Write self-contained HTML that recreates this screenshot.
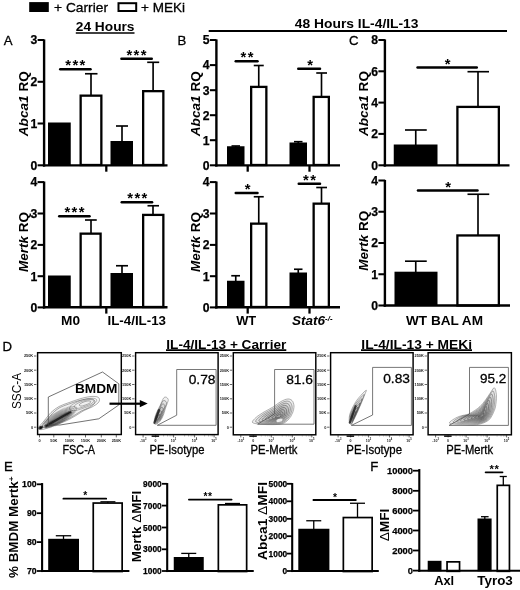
<!DOCTYPE html>
<html lang="en"><head><meta charset="utf-8"><title>Figure</title>
<style>
html,body{margin:0;padding:0;background:#fff;}
body{width:520px;height:590px;overflow:hidden;}
svg{display:block;font-family:"Liberation Sans",sans-serif;fill:#000;}
</style></head><body>
<svg width="520" height="590" viewBox="0 0 520 590">
<rect width="520" height="590" fill="#fff"/>
<defs><filter id="soft" x="-20%" y="-20%" width="140%" height="140%"><feGaussianBlur stdDeviation="0.55"/></filter>
<filter id="soft2" x="-20%" y="-20%" width="140%" height="140%"><feGaussianBlur stdDeviation="0.9"/></filter></defs>

<g id="legend">
<rect x="29.2" y="2.1" width="19.6" height="9.9" fill="#000"/>
<text x="54.00" y="11.60" font-size="13.6" font-weight="normal" font-style="normal" text-anchor="start" textLength="54.00" lengthAdjust="spacingAndGlyphs"  stroke="#000" stroke-width="0.3">+ Carrier</text>
<rect x="118.5" y="3.2" width="17.7" height="7.8" fill="#fff" stroke="#000" stroke-width="2"/>
<text x="141.00" y="11.60" font-size="13.6" font-weight="normal" font-style="normal" text-anchor="start" textLength="44.00" lengthAdjust="spacingAndGlyphs"  stroke="#000" stroke-width="0.3">+ MEKi</text>
</g>
<text x="75.80" y="31.40" font-size="13.6" font-weight="bold" font-style="normal" text-anchor="start" textLength="58.70" lengthAdjust="spacingAndGlyphs" >24 Hours</text>
<line x1="75.80" y1="33.00" x2="134.50" y2="33.00" stroke="#000" stroke-width="1.6" stroke-linecap="butt"/>
<text x="294.80" y="27.60" font-size="13.7" font-weight="bold" font-style="normal" text-anchor="start" textLength="123.70" lengthAdjust="spacingAndGlyphs" >48 Hours IL-4/IL-13</text>
<line x1="208.70" y1="31.00" x2="507.00" y2="31.00" stroke="#000" stroke-width="1.8" stroke-linecap="butt"/>
<text x="3.80" y="45.30" font-size="13.2" font-weight="normal" font-style="normal" text-anchor="start"  stroke="#000" stroke-width="0.3">A</text>
<text x="177.60" y="45.30" font-size="13.2" font-weight="normal" font-style="normal" text-anchor="start"  stroke="#000" stroke-width="0.3">B</text>
<text x="349.00" y="45.30" font-size="13.2" font-weight="normal" font-style="normal" text-anchor="start"  stroke="#000" stroke-width="0.3">C</text>
<text x="2.60" y="351.20" font-size="13.2" font-weight="normal" font-style="normal" text-anchor="start"  stroke="#000" stroke-width="0.3">D</text>
<text x="4.00" y="470.60" font-size="13.2" font-weight="normal" font-style="normal" text-anchor="start"  stroke="#000" stroke-width="0.3">E</text>
<text x="370.20" y="471.20" font-size="13.2" font-weight="normal" font-style="normal" text-anchor="start"  stroke="#000" stroke-width="0.3">F</text>
<g id="A1">
<rect x="48.00" y="122.50" width="22.75" height="42.50" fill="#000"/>
<rect x="80.65" y="95.65" width="20.70" height="69.35" fill="#fff" stroke="#000" stroke-width="2.3"/>
<rect x="110.50" y="141.00" width="22.50" height="24.00" fill="#000"/>
<rect x="143.15" y="91.15" width="20.20" height="73.85" fill="#fff" stroke="#000" stroke-width="2.3"/>
<line x1="91.00" y1="73.75" x2="91.00" y2="95.00" stroke="#000" stroke-width="1.65" stroke-linecap="butt"/>
<line x1="85.00" y1="73.75" x2="97.50" y2="73.75" stroke="#000" stroke-width="1.65" stroke-linecap="butt"/>
<line x1="122.00" y1="126.00" x2="122.00" y2="141.50" stroke="#000" stroke-width="1.65" stroke-linecap="butt"/>
<line x1="116.00" y1="126.00" x2="128.00" y2="126.00" stroke="#000" stroke-width="1.65" stroke-linecap="butt"/>
<line x1="153.10" y1="62.30" x2="153.10" y2="90.50" stroke="#000" stroke-width="1.65" stroke-linecap="butt"/>
<line x1="147.20" y1="62.30" x2="159.20" y2="62.30" stroke="#000" stroke-width="1.65" stroke-linecap="butt"/>
<line x1="44.10" y1="39.40" x2="44.10" y2="166.60" stroke="#000" stroke-width="2.4" stroke-linecap="butt"/>
<line x1="37.60" y1="40.00" x2="44.10" y2="40.00" stroke="#000" stroke-width="2.04" stroke-linecap="butt"/>
<text x="37.30" y="44.39" font-size="12.2" font-weight="bold" font-style="normal" text-anchor="end" stroke="#000" stroke-width="0.25">3</text>
<line x1="37.60" y1="81.80" x2="44.10" y2="81.80" stroke="#000" stroke-width="2.04" stroke-linecap="butt"/>
<text x="37.30" y="86.19" font-size="12.2" font-weight="bold" font-style="normal" text-anchor="end" stroke="#000" stroke-width="0.25">2</text>
<line x1="37.60" y1="123.50" x2="44.10" y2="123.50" stroke="#000" stroke-width="2.04" stroke-linecap="butt"/>
<text x="37.30" y="127.89" font-size="12.2" font-weight="bold" font-style="normal" text-anchor="end" stroke="#000" stroke-width="0.25">1</text>
<line x1="37.60" y1="165.30" x2="44.10" y2="165.30" stroke="#000" stroke-width="2.04" stroke-linecap="butt"/>
<text x="37.30" y="169.69" font-size="12.2" font-weight="bold" font-style="normal" text-anchor="end" stroke="#000" stroke-width="0.25">0</text>
<line x1="42.90" y1="165.40" x2="167.50" y2="165.40" stroke="#000" stroke-width="2.4" stroke-linecap="butt"/>
<line x1="106.30" y1="165.40" x2="106.30" y2="171.70" stroke="#000" stroke-width="2.28" stroke-linecap="butt"/>
<line x1="60.20" y1="69.20" x2="90.55" y2="69.20" stroke="#000" stroke-width="2.4" stroke-linecap="round"/>
<text x="75.97" y="70.48" font-size="14.8" font-weight="bold" font-style="normal" text-anchor="middle" letter-spacing="1.35">***</text>
<line x1="121.40" y1="58.70" x2="151.80" y2="58.70" stroke="#000" stroke-width="2.4" stroke-linecap="round"/>
<text x="137.18" y="59.98" font-size="14.8" font-weight="bold" font-style="normal" text-anchor="middle" letter-spacing="1.35">***</text>
<text transform="translate(28.00,103.70) rotate(-90)" font-size="13.5" font-weight="bold" text-anchor="middle" textLength="65.00" lengthAdjust="spacingAndGlyphs"><tspan font-style="italic">Abca1</tspan> RQ</text>
</g>
<g id="A2">
<rect x="48.00" y="275.50" width="22.75" height="31.50" fill="#000"/>
<rect x="80.65" y="233.65" width="19.95" height="73.35" fill="#fff" stroke="#000" stroke-width="2.3"/>
<rect x="110.50" y="273.00" width="22.50" height="34.00" fill="#000"/>
<rect x="143.15" y="214.90" width="20.20" height="92.10" fill="#fff" stroke="#000" stroke-width="2.3"/>
<line x1="91.00" y1="220.00" x2="91.00" y2="233.00" stroke="#000" stroke-width="1.65" stroke-linecap="butt"/>
<line x1="85.00" y1="220.00" x2="96.75" y2="220.00" stroke="#000" stroke-width="1.65" stroke-linecap="butt"/>
<line x1="122.00" y1="265.75" x2="122.00" y2="273.50" stroke="#000" stroke-width="1.65" stroke-linecap="butt"/>
<line x1="116.00" y1="265.75" x2="128.00" y2="265.75" stroke="#000" stroke-width="1.65" stroke-linecap="butt"/>
<line x1="153.00" y1="205.75" x2="153.00" y2="214.50" stroke="#000" stroke-width="1.65" stroke-linecap="butt"/>
<line x1="147.50" y1="205.75" x2="159.00" y2="205.75" stroke="#000" stroke-width="1.65" stroke-linecap="butt"/>
<line x1="44.10" y1="181.50" x2="44.10" y2="308.50" stroke="#000" stroke-width="2.4" stroke-linecap="butt"/>
<line x1="37.60" y1="182.10" x2="44.10" y2="182.10" stroke="#000" stroke-width="2.04" stroke-linecap="butt"/>
<text x="37.30" y="186.49" font-size="12.2" font-weight="bold" font-style="normal" text-anchor="end" stroke="#000" stroke-width="0.25">4</text>
<line x1="37.60" y1="213.50" x2="44.10" y2="213.50" stroke="#000" stroke-width="2.04" stroke-linecap="butt"/>
<text x="37.30" y="217.89" font-size="12.2" font-weight="bold" font-style="normal" text-anchor="end" stroke="#000" stroke-width="0.25">3</text>
<line x1="37.60" y1="244.90" x2="44.10" y2="244.90" stroke="#000" stroke-width="2.04" stroke-linecap="butt"/>
<text x="37.30" y="249.29" font-size="12.2" font-weight="bold" font-style="normal" text-anchor="end" stroke="#000" stroke-width="0.25">2</text>
<line x1="37.60" y1="276.20" x2="44.10" y2="276.20" stroke="#000" stroke-width="2.04" stroke-linecap="butt"/>
<text x="37.30" y="280.59" font-size="12.2" font-weight="bold" font-style="normal" text-anchor="end" stroke="#000" stroke-width="0.25">1</text>
<line x1="37.60" y1="307.40" x2="44.10" y2="307.40" stroke="#000" stroke-width="2.04" stroke-linecap="butt"/>
<text x="37.30" y="311.79" font-size="12.2" font-weight="bold" font-style="normal" text-anchor="end" stroke="#000" stroke-width="0.25">0</text>
<line x1="42.90" y1="307.30" x2="167.50" y2="307.30" stroke="#000" stroke-width="2.4" stroke-linecap="butt"/>
<line x1="106.30" y1="307.30" x2="106.30" y2="313.60" stroke="#000" stroke-width="2.28" stroke-linecap="butt"/>
<line x1="59.20" y1="216.20" x2="89.55" y2="216.20" stroke="#000" stroke-width="2.4" stroke-linecap="round"/>
<text x="75.17" y="217.48" font-size="14.8" font-weight="bold" font-style="normal" text-anchor="middle" letter-spacing="1.35">***</text>
<line x1="121.70" y1="202.20" x2="152.10" y2="202.20" stroke="#000" stroke-width="2.4" stroke-linecap="round"/>
<text x="137.98" y="203.48" font-size="14.8" font-weight="bold" font-style="normal" text-anchor="middle" letter-spacing="1.35">***</text>
<text transform="translate(28.00,242.10) rotate(-90)" font-size="13.5" font-weight="bold" text-anchor="middle" textLength="60.00" lengthAdjust="spacingAndGlyphs"><tspan font-style="italic">Mertk</tspan> RQ</text>
<text x="61.00" y="325.20" font-size="13" font-weight="bold" font-style="normal" text-anchor="start" textLength="19.00" lengthAdjust="spacingAndGlyphs" >M0</text>
<text x="107.50" y="325.20" font-size="13" font-weight="bold" font-style="normal" text-anchor="start" textLength="58.50" lengthAdjust="spacingAndGlyphs" >IL-4/IL-13</text>
</g>
<g id="B1">
<rect x="227.00" y="146.25" width="17.50" height="18.75" fill="#000"/>
<rect x="251.15" y="86.90" width="15.20" height="78.10" fill="#fff" stroke="#000" stroke-width="2.3"/>
<rect x="289.50" y="142.50" width="17.50" height="22.50" fill="#000"/>
<rect x="313.65" y="96.90" width="15.20" height="68.10" fill="#fff" stroke="#000" stroke-width="2.3"/>
<line x1="235.75" y1="146.00" x2="235.75" y2="147.00" stroke="#000" stroke-width="1.65" stroke-linecap="butt"/>
<line x1="231.50" y1="146.00" x2="240.00" y2="146.00" stroke="#000" stroke-width="1.65" stroke-linecap="butt"/>
<line x1="258.75" y1="65.50" x2="258.75" y2="86.30" stroke="#000" stroke-width="1.65" stroke-linecap="butt"/>
<line x1="253.75" y1="65.50" x2="263.75" y2="65.50" stroke="#000" stroke-width="1.65" stroke-linecap="butt"/>
<line x1="298.25" y1="141.70" x2="298.25" y2="143.00" stroke="#000" stroke-width="1.65" stroke-linecap="butt"/>
<line x1="294.00" y1="141.70" x2="302.50" y2="141.70" stroke="#000" stroke-width="1.65" stroke-linecap="butt"/>
<line x1="321.50" y1="73.00" x2="321.50" y2="96.30" stroke="#000" stroke-width="1.65" stroke-linecap="butt"/>
<line x1="316.25" y1="73.00" x2="327.00" y2="73.00" stroke="#000" stroke-width="1.65" stroke-linecap="butt"/>
<line x1="216.40" y1="39.40" x2="216.40" y2="166.60" stroke="#000" stroke-width="2.4" stroke-linecap="butt"/>
<line x1="209.90" y1="40.00" x2="216.40" y2="40.00" stroke="#000" stroke-width="2.04" stroke-linecap="butt"/>
<text x="209.60" y="44.39" font-size="12.2" font-weight="bold" font-style="normal" text-anchor="end" stroke="#000" stroke-width="0.25">5</text>
<line x1="209.90" y1="65.10" x2="216.40" y2="65.10" stroke="#000" stroke-width="2.04" stroke-linecap="butt"/>
<text x="209.60" y="69.49" font-size="12.2" font-weight="bold" font-style="normal" text-anchor="end" stroke="#000" stroke-width="0.25">4</text>
<line x1="209.90" y1="90.20" x2="216.40" y2="90.20" stroke="#000" stroke-width="2.04" stroke-linecap="butt"/>
<text x="209.60" y="94.59" font-size="12.2" font-weight="bold" font-style="normal" text-anchor="end" stroke="#000" stroke-width="0.25">3</text>
<line x1="209.90" y1="115.20" x2="216.40" y2="115.20" stroke="#000" stroke-width="2.04" stroke-linecap="butt"/>
<text x="209.60" y="119.59" font-size="12.2" font-weight="bold" font-style="normal" text-anchor="end" stroke="#000" stroke-width="0.25">2</text>
<line x1="209.90" y1="140.20" x2="216.40" y2="140.20" stroke="#000" stroke-width="2.04" stroke-linecap="butt"/>
<text x="209.60" y="144.59" font-size="12.2" font-weight="bold" font-style="normal" text-anchor="end" stroke="#000" stroke-width="0.25">1</text>
<line x1="209.90" y1="165.30" x2="216.40" y2="165.30" stroke="#000" stroke-width="2.04" stroke-linecap="butt"/>
<text x="209.60" y="169.69" font-size="12.2" font-weight="bold" font-style="normal" text-anchor="end" stroke="#000" stroke-width="0.25">0</text>
<line x1="215.20" y1="165.40" x2="340.00" y2="165.40" stroke="#000" stroke-width="2.4" stroke-linecap="butt"/>
<line x1="247.70" y1="165.40" x2="247.70" y2="171.70" stroke="#000" stroke-width="2.28" stroke-linecap="butt"/>
<line x1="309.50" y1="165.40" x2="309.50" y2="171.70" stroke="#000" stroke-width="2.28" stroke-linecap="butt"/>
<line x1="235.70" y1="61.20" x2="257.55" y2="61.20" stroke="#000" stroke-width="2.4" stroke-linecap="round"/>
<text x="247.68" y="62.48" font-size="14.8" font-weight="bold" font-style="normal" text-anchor="middle" letter-spacing="1.35">**</text>
<line x1="298.20" y1="68.70" x2="320.05" y2="68.70" stroke="#000" stroke-width="2.4" stroke-linecap="round"/>
<text x="310.68" y="69.98" font-size="14.8" font-weight="bold" font-style="normal" text-anchor="middle" letter-spacing="1.35">*</text>
<text transform="translate(199.80,103.70) rotate(-90)" font-size="13.5" font-weight="bold" text-anchor="middle" textLength="65.00" lengthAdjust="spacingAndGlyphs"><tspan font-style="italic">Abca1</tspan> RQ</text>
</g>
<g id="B2">
<rect x="227.00" y="280.75" width="17.50" height="26.25" fill="#000"/>
<rect x="251.15" y="223.65" width="15.20" height="83.35" fill="#fff" stroke="#000" stroke-width="2.3"/>
<rect x="289.50" y="272.50" width="17.50" height="34.50" fill="#000"/>
<rect x="313.65" y="203.65" width="15.20" height="103.35" fill="#fff" stroke="#000" stroke-width="2.3"/>
<line x1="235.75" y1="275.75" x2="235.75" y2="281.00" stroke="#000" stroke-width="1.65" stroke-linecap="butt"/>
<line x1="231.25" y1="275.75" x2="240.00" y2="275.75" stroke="#000" stroke-width="1.65" stroke-linecap="butt"/>
<line x1="258.75" y1="196.75" x2="258.75" y2="223.00" stroke="#000" stroke-width="1.65" stroke-linecap="butt"/>
<line x1="253.75" y1="196.75" x2="263.75" y2="196.75" stroke="#000" stroke-width="1.65" stroke-linecap="butt"/>
<line x1="298.25" y1="269.25" x2="298.25" y2="273.00" stroke="#000" stroke-width="1.65" stroke-linecap="butt"/>
<line x1="294.00" y1="269.25" x2="302.50" y2="269.25" stroke="#000" stroke-width="1.65" stroke-linecap="butt"/>
<line x1="321.50" y1="187.50" x2="321.50" y2="203.00" stroke="#000" stroke-width="1.65" stroke-linecap="butt"/>
<line x1="316.25" y1="187.50" x2="327.00" y2="187.50" stroke="#000" stroke-width="1.65" stroke-linecap="butt"/>
<line x1="216.40" y1="181.50" x2="216.40" y2="308.50" stroke="#000" stroke-width="2.4" stroke-linecap="butt"/>
<line x1="209.90" y1="182.10" x2="216.40" y2="182.10" stroke="#000" stroke-width="2.04" stroke-linecap="butt"/>
<text x="209.60" y="186.49" font-size="12.2" font-weight="bold" font-style="normal" text-anchor="end" stroke="#000" stroke-width="0.25">4</text>
<line x1="209.90" y1="213.50" x2="216.40" y2="213.50" stroke="#000" stroke-width="2.04" stroke-linecap="butt"/>
<text x="209.60" y="217.89" font-size="12.2" font-weight="bold" font-style="normal" text-anchor="end" stroke="#000" stroke-width="0.25">3</text>
<line x1="209.90" y1="244.90" x2="216.40" y2="244.90" stroke="#000" stroke-width="2.04" stroke-linecap="butt"/>
<text x="209.60" y="249.29" font-size="12.2" font-weight="bold" font-style="normal" text-anchor="end" stroke="#000" stroke-width="0.25">2</text>
<line x1="209.90" y1="276.20" x2="216.40" y2="276.20" stroke="#000" stroke-width="2.04" stroke-linecap="butt"/>
<text x="209.60" y="280.59" font-size="12.2" font-weight="bold" font-style="normal" text-anchor="end" stroke="#000" stroke-width="0.25">1</text>
<line x1="209.90" y1="307.40" x2="216.40" y2="307.40" stroke="#000" stroke-width="2.04" stroke-linecap="butt"/>
<text x="209.60" y="311.79" font-size="12.2" font-weight="bold" font-style="normal" text-anchor="end" stroke="#000" stroke-width="0.25">0</text>
<line x1="215.20" y1="307.30" x2="340.00" y2="307.30" stroke="#000" stroke-width="2.4" stroke-linecap="butt"/>
<line x1="247.70" y1="307.30" x2="247.70" y2="313.60" stroke="#000" stroke-width="2.28" stroke-linecap="butt"/>
<line x1="309.50" y1="307.30" x2="309.50" y2="313.60" stroke="#000" stroke-width="2.28" stroke-linecap="butt"/>
<line x1="235.70" y1="192.95" x2="257.55" y2="192.95" stroke="#000" stroke-width="2.4" stroke-linecap="round"/>
<text x="248.18" y="194.23" font-size="14.8" font-weight="bold" font-style="normal" text-anchor="middle" letter-spacing="1.35">*</text>
<line x1="298.70" y1="183.70" x2="320.05" y2="183.70" stroke="#000" stroke-width="2.4" stroke-linecap="round"/>
<text x="310.18" y="184.98" font-size="14.8" font-weight="bold" font-style="normal" text-anchor="middle" letter-spacing="1.35">**</text>
<text transform="translate(199.80,242.10) rotate(-90)" font-size="13.5" font-weight="bold" text-anchor="middle" textLength="60.00" lengthAdjust="spacingAndGlyphs"><tspan font-style="italic">Mertk</tspan> RQ</text>
<text x="236.20" y="325.20" font-size="13" font-weight="bold" font-style="normal" text-anchor="start" textLength="20.00" lengthAdjust="spacingAndGlyphs" >WT</text>
<text x="292" y="325.2" font-size="13" font-weight="bold" font-style="italic" textLength="40.5" lengthAdjust="spacingAndGlyphs">Stat6<tspan font-size="7.5" dy="-4.5">-/-</tspan></text>
</g>
<g id="C1">
<rect x="393.75" y="144.50" width="43.75" height="20.50" fill="#000"/>
<rect x="457.40" y="106.90" width="41.45" height="58.10" fill="#fff" stroke="#000" stroke-width="2.3"/>
<line x1="415.75" y1="130.00" x2="415.75" y2="145.00" stroke="#000" stroke-width="1.65" stroke-linecap="butt"/>
<line x1="405.00" y1="130.00" x2="426.75" y2="130.00" stroke="#000" stroke-width="1.65" stroke-linecap="butt"/>
<line x1="478.00" y1="71.70" x2="478.00" y2="106.30" stroke="#000" stroke-width="1.65" stroke-linecap="butt"/>
<line x1="467.50" y1="71.70" x2="489.00" y2="71.70" stroke="#000" stroke-width="1.65" stroke-linecap="butt"/>
<line x1="384.90" y1="39.40" x2="384.90" y2="166.60" stroke="#000" stroke-width="2.4" stroke-linecap="butt"/>
<line x1="378.40" y1="40.00" x2="384.90" y2="40.00" stroke="#000" stroke-width="2.04" stroke-linecap="butt"/>
<text x="378.10" y="44.39" font-size="12.2" font-weight="bold" font-style="normal" text-anchor="end" stroke="#000" stroke-width="0.25">8</text>
<line x1="378.40" y1="71.30" x2="384.90" y2="71.30" stroke="#000" stroke-width="2.04" stroke-linecap="butt"/>
<text x="378.10" y="75.69" font-size="12.2" font-weight="bold" font-style="normal" text-anchor="end" stroke="#000" stroke-width="0.25">6</text>
<line x1="378.40" y1="102.60" x2="384.90" y2="102.60" stroke="#000" stroke-width="2.04" stroke-linecap="butt"/>
<text x="378.10" y="106.99" font-size="12.2" font-weight="bold" font-style="normal" text-anchor="end" stroke="#000" stroke-width="0.25">4</text>
<line x1="378.40" y1="133.90" x2="384.90" y2="133.90" stroke="#000" stroke-width="2.04" stroke-linecap="butt"/>
<text x="378.10" y="138.29" font-size="12.2" font-weight="bold" font-style="normal" text-anchor="end" stroke="#000" stroke-width="0.25">2</text>
<line x1="378.40" y1="165.30" x2="384.90" y2="165.30" stroke="#000" stroke-width="2.04" stroke-linecap="butt"/>
<text x="378.10" y="169.69" font-size="12.2" font-weight="bold" font-style="normal" text-anchor="end" stroke="#000" stroke-width="0.25">0</text>
<line x1="383.70" y1="165.40" x2="509.50" y2="165.40" stroke="#000" stroke-width="2.4" stroke-linecap="butt"/>
<line x1="417.50" y1="67.45" x2="476.80" y2="67.45" stroke="#000" stroke-width="2.4" stroke-linecap="round"/>
<text x="448.38" y="68.73" font-size="14.8" font-weight="bold" font-style="normal" text-anchor="middle" letter-spacing="1.35">*</text>
<text transform="translate(368.00,103.50) rotate(-90)" font-size="13.5" font-weight="bold" text-anchor="middle" textLength="65.00" lengthAdjust="spacingAndGlyphs"><tspan font-style="italic">Abca1</tspan> RQ</text>
</g>
<g id="C2">
<rect x="394.50" y="271.70" width="43.00" height="33.80" fill="#000"/>
<rect x="457.40" y="235.45" width="41.45" height="70.05" fill="#fff" stroke="#000" stroke-width="2.3"/>
<line x1="415.75" y1="261.20" x2="415.75" y2="272.00" stroke="#000" stroke-width="1.65" stroke-linecap="butt"/>
<line x1="405.00" y1="261.20" x2="426.75" y2="261.20" stroke="#000" stroke-width="1.65" stroke-linecap="butt"/>
<line x1="478.00" y1="194.25" x2="478.00" y2="235.00" stroke="#000" stroke-width="1.65" stroke-linecap="butt"/>
<line x1="467.50" y1="194.25" x2="489.25" y2="194.25" stroke="#000" stroke-width="1.65" stroke-linecap="butt"/>
<line x1="384.90" y1="179.90" x2="384.90" y2="306.70" stroke="#000" stroke-width="2.4" stroke-linecap="butt"/>
<line x1="378.40" y1="180.50" x2="384.90" y2="180.50" stroke="#000" stroke-width="2.04" stroke-linecap="butt"/>
<text x="378.10" y="184.89" font-size="12.2" font-weight="bold" font-style="normal" text-anchor="end" stroke="#000" stroke-width="0.25">4</text>
<line x1="378.40" y1="211.75" x2="384.90" y2="211.75" stroke="#000" stroke-width="2.04" stroke-linecap="butt"/>
<text x="378.10" y="216.14" font-size="12.2" font-weight="bold" font-style="normal" text-anchor="end" stroke="#000" stroke-width="0.25">3</text>
<line x1="378.40" y1="243.00" x2="384.90" y2="243.00" stroke="#000" stroke-width="2.04" stroke-linecap="butt"/>
<text x="378.10" y="247.39" font-size="12.2" font-weight="bold" font-style="normal" text-anchor="end" stroke="#000" stroke-width="0.25">2</text>
<line x1="378.40" y1="274.25" x2="384.90" y2="274.25" stroke="#000" stroke-width="2.04" stroke-linecap="butt"/>
<text x="378.10" y="278.64" font-size="12.2" font-weight="bold" font-style="normal" text-anchor="end" stroke="#000" stroke-width="0.25">1</text>
<line x1="378.40" y1="305.50" x2="384.90" y2="305.50" stroke="#000" stroke-width="2.04" stroke-linecap="butt"/>
<text x="378.10" y="309.89" font-size="12.2" font-weight="bold" font-style="normal" text-anchor="end" stroke="#000" stroke-width="0.25">0</text>
<line x1="383.70" y1="305.50" x2="510.00" y2="305.50" stroke="#000" stroke-width="2.4" stroke-linecap="butt"/>
<line x1="417.95" y1="190.45" x2="477.55" y2="190.45" stroke="#000" stroke-width="2.4" stroke-linecap="round"/>
<text x="448.68" y="191.73" font-size="14.8" font-weight="bold" font-style="normal" text-anchor="middle" letter-spacing="1.35">*</text>
<text transform="translate(368.00,240.80) rotate(-90)" font-size="13.5" font-weight="bold" text-anchor="middle" textLength="60.00" lengthAdjust="spacingAndGlyphs"><tspan font-style="italic">Mertk</tspan> RQ</text>
<text x="406.00" y="325.20" font-size="13" font-weight="bold" font-style="normal" text-anchor="start" textLength="77.00" lengthAdjust="spacingAndGlyphs" >WT BAL AM</text>
</g>
<g id="D">
<rect x="37.60" y="352.70" width="83.70" height="81.80" fill="#fff" stroke="#000" stroke-width="1.45"/>
<text x="33.20" y="357.40" font-size="3.9" font-weight="bold" font-style="normal" text-anchor="end" fill="#222">250K</text>
<line x1="34.00" y1="356.00" x2="36.40" y2="356.00" stroke="#222" stroke-width="0.7" stroke-linecap="butt"/>
<text x="33.20" y="371.60" font-size="3.9" font-weight="bold" font-style="normal" text-anchor="end" fill="#222">200K</text>
<line x1="34.00" y1="370.20" x2="36.40" y2="370.20" stroke="#222" stroke-width="0.7" stroke-linecap="butt"/>
<text x="33.20" y="385.90" font-size="3.9" font-weight="bold" font-style="normal" text-anchor="end" fill="#222">150K</text>
<line x1="34.00" y1="384.50" x2="36.40" y2="384.50" stroke="#222" stroke-width="0.7" stroke-linecap="butt"/>
<text x="33.20" y="400.20" font-size="3.9" font-weight="bold" font-style="normal" text-anchor="end" fill="#222">100K</text>
<line x1="34.00" y1="398.80" x2="36.40" y2="398.80" stroke="#222" stroke-width="0.7" stroke-linecap="butt"/>
<text x="33.20" y="414.40" font-size="3.9" font-weight="bold" font-style="normal" text-anchor="end" fill="#222">50K</text>
<line x1="34.00" y1="413.00" x2="36.40" y2="413.00" stroke="#222" stroke-width="0.7" stroke-linecap="butt"/>
<text x="33.20" y="428.60" font-size="3.9" font-weight="bold" font-style="normal" text-anchor="end" fill="#222">0</text>
<line x1="34.00" y1="427.20" x2="36.40" y2="427.20" stroke="#222" stroke-width="0.7" stroke-linecap="butt"/>
<text x="39.50" y="441.60" font-size="3.9" font-weight="bold" font-style="normal" text-anchor="middle" fill="#222">0</text>
<line x1="39.50" y1="435.00" x2="39.50" y2="437.40" stroke="#222" stroke-width="0.7" stroke-linecap="butt"/>
<text x="53.80" y="441.60" font-size="3.9" font-weight="bold" font-style="normal" text-anchor="middle" fill="#222">50K</text>
<line x1="53.80" y1="435.00" x2="53.80" y2="437.40" stroke="#222" stroke-width="0.7" stroke-linecap="butt"/>
<text x="69.30" y="441.60" font-size="3.9" font-weight="bold" font-style="normal" text-anchor="middle" fill="#222">100K</text>
<line x1="69.30" y1="435.00" x2="69.30" y2="437.40" stroke="#222" stroke-width="0.7" stroke-linecap="butt"/>
<text x="85.50" y="441.60" font-size="3.9" font-weight="bold" font-style="normal" text-anchor="middle" fill="#222">150K</text>
<line x1="85.50" y1="435.00" x2="85.50" y2="437.40" stroke="#222" stroke-width="0.7" stroke-linecap="butt"/>
<text x="101.30" y="441.60" font-size="3.9" font-weight="bold" font-style="normal" text-anchor="middle" fill="#222">200K</text>
<line x1="101.30" y1="435.00" x2="101.30" y2="437.40" stroke="#222" stroke-width="0.7" stroke-linecap="butt"/>
<text x="116.30" y="441.60" font-size="3.9" font-weight="bold" font-style="normal" text-anchor="middle" fill="#222">250K</text>
<line x1="116.30" y1="435.00" x2="116.30" y2="437.40" stroke="#222" stroke-width="0.7" stroke-linecap="butt"/>
<g filter="url(#soft)">
<path d="M38.50,427.60 C39.17,426.17 41.92,423.52 44.00,421.00 C46.08,418.48 48.50,414.92 51.00,412.50 C53.50,410.08 56.00,408.15 59.00,406.50 C62.00,404.85 65.50,403.88 69.00,402.60 C72.50,401.32 76.50,399.80 80.00,398.80 C83.50,397.80 87.17,396.93 90.00,396.60 C92.83,396.27 95.42,396.35 97.00,396.80 C98.58,397.25 99.33,398.27 99.50,399.30 C99.67,400.33 99.25,401.72 98.00,403.00 C96.75,404.28 94.33,405.75 92.00,407.00 C89.67,408.25 86.67,409.08 84.00,410.50 C81.33,411.92 79.00,413.75 76.00,415.50 C73.00,417.25 69.50,419.38 66.00,421.00 C62.50,422.62 58.33,423.93 55.00,425.20 C51.67,426.47 48.50,427.87 46.00,428.60 C43.50,429.33 41.25,429.77 40.00,429.60 C38.75,429.43 37.83,429.03 38.50,427.60Z" fill="rgba(40,40,40,0.03)" stroke="#333" stroke-opacity="0.65" stroke-width="0.6"/>
<path d="M42.35,425.63 C42.92,424.39 45.29,422.11 47.08,419.95 C48.87,417.79 50.95,414.72 53.10,412.64 C55.25,410.56 57.40,408.90 59.98,407.48 C62.56,406.06 65.57,405.23 68.58,404.13 C71.59,403.02 75.03,401.72 78.04,400.86 C81.05,400.00 84.20,399.25 86.64,398.97 C89.08,398.68 91.30,398.75 92.66,399.14 C94.02,399.53 94.67,400.40 94.81,401.29 C94.95,402.18 94.59,403.37 93.52,404.47 C92.44,405.57 90.37,406.84 88.36,407.91 C86.35,408.99 83.77,409.70 81.48,410.92 C79.19,412.14 77.18,413.72 74.60,415.22 C72.02,416.73 69.01,418.56 66.00,419.95 C62.99,421.34 59.41,422.47 56.54,423.56 C53.67,424.65 50.95,425.86 48.80,426.49 C46.65,427.12 44.72,427.49 43.64,427.35 C42.56,427.20 41.78,426.86 42.35,425.63Z" fill="rgba(40,40,40,0.03)" stroke="#333" stroke-opacity="0.70" stroke-width="0.6"/>
</g>
<g filter="url(#soft)" transform="translate(59.5,417.2) rotate(-29.5)">
<ellipse cx="0.0" cy="0.00" rx="19.5" ry="5.6" fill="rgba(40,40,40,0.05)" stroke="#333" stroke-opacity="0.60" stroke-width="0.6"/>
<ellipse cx="-0.4" cy="0.25" rx="17.5" ry="4.7" fill="rgba(40,40,40,0.05)" stroke="#333" stroke-opacity="0.66" stroke-width="0.6"/>
<ellipse cx="-0.8" cy="0.50" rx="15.5" ry="3.9" fill="rgba(40,40,40,0.05)" stroke="#333" stroke-opacity="0.72" stroke-width="0.6"/>
<ellipse cx="-1.2" cy="0.75" rx="13.5" ry="3.1" fill="rgba(40,40,40,0.05)" stroke="#333" stroke-opacity="0.78" stroke-width="0.6"/>
<ellipse cx="-1.6" cy="1.00" rx="11.5" ry="2.4" fill="rgba(40,40,40,0.05)" stroke="#333" stroke-opacity="0.84" stroke-width="0.6"/>
</g>
<g filter="url(#soft)">
<path d="M70.00,406.50 C71.17,405.07 75.00,402.92 78.00,401.60 C81.00,400.28 85.17,399.10 88.00,398.60 C90.83,398.10 93.57,398.23 95.00,398.60 C96.43,398.97 96.93,399.85 96.60,400.80 C96.27,401.75 94.93,403.17 93.00,404.30 C91.07,405.43 87.67,406.62 85.00,407.60 C82.33,408.58 79.33,409.77 77.00,410.20 C74.67,410.63 72.17,410.82 71.00,410.20 C69.83,409.58 68.83,407.93 70.00,406.50Z" fill="rgba(40,40,40,0.0)" stroke="#333" stroke-opacity="0.55" stroke-width="0.6"/>
<path d="M74.78,405.43 C75.61,404.41 78.34,402.88 80.47,401.95 C82.59,401.01 85.55,400.17 87.56,399.82 C89.58,399.46 91.52,399.56 92.53,399.82 C93.55,400.08 93.91,400.71 93.67,401.38 C93.43,402.05 92.49,403.06 91.11,403.87 C89.74,404.67 87.33,405.51 85.44,406.21 C83.54,406.91 81.41,407.75 79.75,408.05 C78.10,408.36 76.32,408.49 75.50,408.05 C74.67,407.62 73.96,406.44 74.78,405.43Z" fill="rgba(40,40,40,0.0)" stroke="#333" stroke-opacity="0.60" stroke-width="0.6"/>
<path d="M79.57,404.35 C80.06,403.75 81.67,402.85 82.93,402.30 C84.19,401.74 85.94,401.25 87.13,401.04 C88.32,400.83 89.47,400.88 90.07,401.04 C90.67,401.19 90.88,401.56 90.74,401.96 C90.60,402.36 90.04,402.95 89.23,403.43 C88.42,403.91 86.99,404.40 85.87,404.82 C84.75,405.23 83.49,405.73 82.51,405.91 C81.53,406.09 80.48,406.17 79.99,405.91 C79.50,405.65 79.08,404.96 79.57,404.35Z" fill="rgba(40,40,40,0.0)" stroke="#333" stroke-opacity="0.65" stroke-width="0.6"/>
</g>
<path d="M45,425.8 L52,421.3 L62,415.5 L70.5,411.2 L71.3,412.6 L63,417.6 L53,423.2 L46,427Z" fill="#111" fill-opacity="0.9" stroke="#222" stroke-width="1.8" stroke-linejoin="round" stroke-opacity="0.5" filter="url(#soft)"/>
<ellipse cx="40.8" cy="427.6" rx="2.4" ry="1.7" fill="#111" transform="rotate(-25 40.8 427.6)" filter="url(#soft)"/>
<polygon points="48.30,397.00 102.50,372.00 118.80,383.80 118.80,405.00 98.80,418.80 60.00,425.00 48.30,425.00" fill="none" stroke="#444" stroke-width="0.75" stroke-linejoin="miter"/>
<text x="75.00" y="392.60" font-size="13.4" font-weight="bold" font-style="normal" text-anchor="start" textLength="42.50" lengthAdjust="spacingAndGlyphs" >BMDM</text>
<text transform="translate(21.30,391.00) rotate(-90)" font-size="12.3" font-weight="normal" text-anchor="middle" textLength="36.00" lengthAdjust="spacingAndGlyphs">SSC-A</text>
<text x="62.50" y="454.00" font-size="12.3" font-weight="normal" font-style="normal" text-anchor="start" textLength="32.50" lengthAdjust="spacingAndGlyphs"  stroke="#000" stroke-width="0.3">FSC-A</text>
<rect x="135.60" y="352.70" width="82.50" height="81.90" fill="#fff" stroke="#000" stroke-width="1.45"/>
<text x="131.30" y="357.40" font-size="3.9" font-weight="bold" font-style="normal" text-anchor="end" fill="#222">250K</text>
<line x1="132.10" y1="356.00" x2="134.50" y2="356.00" stroke="#222" stroke-width="0.7" stroke-linecap="butt"/>
<text x="131.30" y="371.60" font-size="3.9" font-weight="bold" font-style="normal" text-anchor="end" fill="#222">200K</text>
<line x1="132.10" y1="370.20" x2="134.50" y2="370.20" stroke="#222" stroke-width="0.7" stroke-linecap="butt"/>
<text x="131.30" y="385.90" font-size="3.9" font-weight="bold" font-style="normal" text-anchor="end" fill="#222">150K</text>
<line x1="132.10" y1="384.50" x2="134.50" y2="384.50" stroke="#222" stroke-width="0.7" stroke-linecap="butt"/>
<text x="131.30" y="400.20" font-size="3.9" font-weight="bold" font-style="normal" text-anchor="end" fill="#222">100K</text>
<line x1="132.10" y1="398.80" x2="134.50" y2="398.80" stroke="#222" stroke-width="0.7" stroke-linecap="butt"/>
<text x="131.30" y="414.40" font-size="3.9" font-weight="bold" font-style="normal" text-anchor="end" fill="#222">50K</text>
<line x1="132.10" y1="413.00" x2="134.50" y2="413.00" stroke="#222" stroke-width="0.7" stroke-linecap="butt"/>
<text x="131.30" y="428.60" font-size="3.9" font-weight="bold" font-style="normal" text-anchor="end" fill="#222">0</text>
<line x1="132.10" y1="427.20" x2="134.50" y2="427.20" stroke="#222" stroke-width="0.7" stroke-linecap="butt"/>
<text x="143.10" y="441.6" font-size="3.6" font-weight="bold" text-anchor="middle" fill="#222">-10<tspan font-size="2.6" dy="-1.3">3</tspan></text>
<text x="173.60" y="441.6" font-size="3.6" font-weight="bold" text-anchor="middle" fill="#222">10<tspan font-size="2.6" dy="-1.3">3</tspan></text>
<text x="194.60" y="441.6" font-size="3.6" font-weight="bold" text-anchor="middle" fill="#222">10<tspan font-size="2.6" dy="-1.3">4</tspan></text>
<text x="214.10" y="441.6" font-size="3.6" font-weight="bold" text-anchor="middle" fill="#222">10<tspan font-size="2.6" dy="-1.3">5</tspan></text>
<text x="155.60" y="441.60" font-size="3.6" font-weight="bold" font-style="normal" text-anchor="middle" fill="#222">0</text>
<line x1="143.10" y1="435.00" x2="143.10" y2="437.40" stroke="#222" stroke-width="0.7" stroke-linecap="butt"/>
<line x1="155.60" y1="435.00" x2="155.60" y2="437.40" stroke="#222" stroke-width="0.7" stroke-linecap="butt"/>
<line x1="173.60" y1="435.00" x2="173.60" y2="437.40" stroke="#222" stroke-width="0.7" stroke-linecap="butt"/>
<line x1="194.60" y1="435.00" x2="194.60" y2="437.40" stroke="#222" stroke-width="0.7" stroke-linecap="butt"/>
<line x1="214.10" y1="435.00" x2="214.10" y2="437.40" stroke="#222" stroke-width="0.7" stroke-linecap="butt"/>
<line x1="163.60" y1="435.00" x2="163.60" y2="436.40" stroke="#555" stroke-width="0.5" stroke-linecap="butt"/>
<line x1="167.60" y1="435.00" x2="167.60" y2="436.40" stroke="#555" stroke-width="0.5" stroke-linecap="butt"/>
<line x1="170.10" y1="435.00" x2="170.10" y2="436.40" stroke="#555" stroke-width="0.5" stroke-linecap="butt"/>
<line x1="172.10" y1="435.00" x2="172.10" y2="436.40" stroke="#555" stroke-width="0.5" stroke-linecap="butt"/>
<line x1="184.60" y1="435.00" x2="184.60" y2="436.40" stroke="#555" stroke-width="0.5" stroke-linecap="butt"/>
<line x1="188.60" y1="435.00" x2="188.60" y2="436.40" stroke="#555" stroke-width="0.5" stroke-linecap="butt"/>
<line x1="191.10" y1="435.00" x2="191.10" y2="436.40" stroke="#555" stroke-width="0.5" stroke-linecap="butt"/>
<line x1="193.10" y1="435.00" x2="193.10" y2="436.40" stroke="#555" stroke-width="0.5" stroke-linecap="butt"/>
<line x1="204.60" y1="435.00" x2="204.60" y2="436.40" stroke="#555" stroke-width="0.5" stroke-linecap="butt"/>
<line x1="208.60" y1="435.00" x2="208.60" y2="436.40" stroke="#555" stroke-width="0.5" stroke-linecap="butt"/>
<line x1="211.10" y1="435.00" x2="211.10" y2="436.40" stroke="#555" stroke-width="0.5" stroke-linecap="butt"/>
<line x1="212.60" y1="435.00" x2="212.60" y2="436.40" stroke="#555" stroke-width="0.5" stroke-linecap="butt"/>
<rect x="151.60" y="435.4" width="7.5" height="1.5" fill="#111"/>
<g filter="url(#soft)">
<path d="M154.90,424.30 C154.24,424.03 154.16,422.77 154.20,421.46 C154.24,420.15 154.61,418.19 155.13,416.44 C155.65,414.70 156.50,412.77 157.31,410.99 C158.12,409.20 159.19,407.37 159.97,405.74 C160.75,404.10 161.37,402.50 162.02,401.18 C162.66,399.86 163.13,398.47 163.83,397.80 C164.53,397.14 165.46,396.89 166.20,397.20 C166.94,397.51 168.07,398.62 168.25,399.65 C168.43,400.68 167.73,401.97 167.28,403.38 C166.83,404.78 166.11,406.33 165.54,408.06 C164.97,409.78 164.54,411.88 163.86,413.72 C163.19,415.56 162.44,417.53 161.49,419.09 C160.53,420.66 159.23,422.23 158.13,423.10 C157.03,423.97 155.56,424.57 154.90,424.30Z" fill="rgba(40,40,40,0.06)" stroke="#333" stroke-opacity="0.60" stroke-width="0.6"/>
<path d="M155.35,423.37 C154.80,423.14 154.72,422.08 154.76,420.98 C154.79,419.88 155.10,418.23 155.54,416.77 C155.97,415.30 156.69,413.68 157.37,412.18 C158.05,410.69 158.95,409.15 159.60,407.77 C160.26,406.40 160.78,405.06 161.32,403.95 C161.86,402.84 162.26,401.66 162.85,401.11 C163.43,400.55 164.22,400.34 164.84,400.60 C165.46,400.86 166.41,401.79 166.56,402.66 C166.71,403.52 166.12,404.61 165.74,405.79 C165.37,406.97 164.76,408.28 164.28,409.72 C163.80,411.17 163.44,412.94 162.87,414.48 C162.31,416.02 161.68,417.68 160.88,418.99 C160.07,420.31 158.98,421.63 158.06,422.36 C157.14,423.09 155.90,423.60 155.35,423.37Z" fill="rgba(40,40,40,0.06)" stroke="#333" stroke-opacity="0.66" stroke-width="0.6"/>
<path d="M155.79,422.43 C155.35,422.25 155.29,421.39 155.31,420.50 C155.34,419.61 155.59,418.28 155.95,417.09 C156.30,415.90 156.88,414.59 157.43,413.38 C157.98,412.17 158.71,410.92 159.24,409.81 C159.77,408.70 160.19,407.61 160.63,406.71 C161.07,405.81 161.39,404.86 161.86,404.41 C162.34,403.96 162.97,403.80 163.48,404.00 C163.98,404.21 164.75,404.97 164.87,405.67 C164.99,406.37 164.52,407.25 164.21,408.20 C163.90,409.16 163.41,410.22 163.03,411.39 C162.64,412.56 162.34,413.99 161.89,415.24 C161.43,416.49 160.92,417.83 160.27,418.89 C159.62,419.95 158.73,421.03 157.99,421.62 C157.24,422.21 156.24,422.62 155.79,422.43Z" fill="rgba(40,40,40,0.06)" stroke="#333" stroke-opacity="0.72" stroke-width="0.6"/>
<path d="M156.24,421.50 C155.90,421.36 155.85,420.70 155.87,420.02 C155.89,419.34 156.09,418.32 156.36,417.41 C156.63,416.50 157.07,415.50 157.49,414.58 C157.91,413.65 158.47,412.70 158.87,411.85 C159.28,411.00 159.60,410.16 159.94,409.48 C160.27,408.79 160.52,408.06 160.88,407.72 C161.24,407.37 161.73,407.25 162.11,407.41 C162.50,407.57 163.09,408.14 163.18,408.68 C163.27,409.21 162.91,409.89 162.67,410.62 C162.44,411.35 162.07,412.16 161.77,413.05 C161.47,413.95 161.25,415.04 160.90,416.00 C160.55,416.95 160.16,417.98 159.66,418.79 C159.16,419.60 158.49,420.42 157.92,420.88 C157.35,421.33 156.58,421.64 156.24,421.50Z" fill="rgba(40,40,40,0.06)" stroke="#333" stroke-opacity="0.78" stroke-width="0.6"/>
<path d="M156.68,420.56 C156.45,420.47 156.42,420.01 156.43,419.54 C156.44,419.07 156.58,418.36 156.77,417.74 C156.95,417.11 157.26,416.41 157.55,415.77 C157.84,415.13 158.23,414.47 158.51,413.88 C158.79,413.29 159.01,412.72 159.24,412.24 C159.48,411.77 159.65,411.26 159.90,411.02 C160.15,410.79 160.49,410.70 160.75,410.81 C161.02,410.92 161.42,411.32 161.49,411.69 C161.55,412.06 161.30,412.53 161.14,413.03 C160.98,413.54 160.72,414.10 160.51,414.72 C160.31,415.34 160.15,416.09 159.91,416.76 C159.67,417.42 159.40,418.13 159.05,418.69 C158.71,419.25 158.24,419.82 157.85,420.13 C157.45,420.45 156.92,420.66 156.68,420.56Z" fill="rgba(40,40,40,0.06)" stroke="#333" stroke-opacity="0.84" stroke-width="0.6"/>
<path d="M157.13,419.63 C157.00,419.58 156.98,419.32 156.99,419.06 C157.00,418.80 157.07,418.41 157.17,418.06 C157.28,417.71 157.45,417.33 157.61,416.97 C157.77,416.61 157.99,416.24 158.14,415.92 C158.30,415.59 158.42,415.27 158.55,415.01 C158.68,414.74 158.77,414.46 158.91,414.33 C159.05,414.20 159.24,414.15 159.39,414.21 C159.54,414.27 159.76,414.49 159.80,414.70 C159.84,414.91 159.70,415.17 159.60,415.45 C159.51,415.73 159.37,416.04 159.26,416.38 C159.14,416.73 159.06,417.15 158.92,417.51 C158.79,417.88 158.64,418.28 158.45,418.59 C158.25,418.90 157.99,419.22 157.77,419.39 C157.56,419.56 157.26,419.69 157.13,419.63Z" fill="rgba(40,40,40,0.06)" stroke="#333" stroke-opacity="0.90" stroke-width="0.6"/>
</g>
<line x1="154.42" y1="422.83" x2="158.94" y2="410.08" stroke="#111" stroke-opacity="0.75" stroke-width="2.2" stroke-linecap="round" filter="url(#soft)"/>
<polygon points="176.70,369.50 216.10,369.50 216.10,425.30 157.30,425.30 176.70,415.20" fill="none" stroke="#555" stroke-width="0.8" stroke-linejoin="miter"/>
<text x="188.70" y="384.20" font-size="13.4" font-weight="normal" font-style="normal" text-anchor="start" textLength="26.80" lengthAdjust="spacingAndGlyphs"  stroke="#000" stroke-width="0.3">0.78</text>
<text x="149.50" y="454.00" font-size="12.3" font-weight="normal" font-style="normal" text-anchor="start" textLength="55.00" lengthAdjust="spacingAndGlyphs"  stroke="#000" stroke-width="0.3">PE-Isotype</text>
<rect x="233.30" y="352.70" width="82.50" height="82.10" fill="#fff" stroke="#000" stroke-width="1.45"/>
<text x="229.00" y="357.40" font-size="3.9" font-weight="bold" font-style="normal" text-anchor="end" fill="#222">250K</text>
<line x1="229.80" y1="356.00" x2="232.20" y2="356.00" stroke="#222" stroke-width="0.7" stroke-linecap="butt"/>
<text x="229.00" y="371.60" font-size="3.9" font-weight="bold" font-style="normal" text-anchor="end" fill="#222">200K</text>
<line x1="229.80" y1="370.20" x2="232.20" y2="370.20" stroke="#222" stroke-width="0.7" stroke-linecap="butt"/>
<text x="229.00" y="385.90" font-size="3.9" font-weight="bold" font-style="normal" text-anchor="end" fill="#222">150K</text>
<line x1="229.80" y1="384.50" x2="232.20" y2="384.50" stroke="#222" stroke-width="0.7" stroke-linecap="butt"/>
<text x="229.00" y="400.20" font-size="3.9" font-weight="bold" font-style="normal" text-anchor="end" fill="#222">100K</text>
<line x1="229.80" y1="398.80" x2="232.20" y2="398.80" stroke="#222" stroke-width="0.7" stroke-linecap="butt"/>
<text x="229.00" y="414.40" font-size="3.9" font-weight="bold" font-style="normal" text-anchor="end" fill="#222">50K</text>
<line x1="229.80" y1="413.00" x2="232.20" y2="413.00" stroke="#222" stroke-width="0.7" stroke-linecap="butt"/>
<text x="229.00" y="428.60" font-size="3.9" font-weight="bold" font-style="normal" text-anchor="end" fill="#222">0</text>
<line x1="229.80" y1="427.20" x2="232.20" y2="427.20" stroke="#222" stroke-width="0.7" stroke-linecap="butt"/>
<text x="240.80" y="441.6" font-size="3.6" font-weight="bold" text-anchor="middle" fill="#222">-10<tspan font-size="2.6" dy="-1.3">3</tspan></text>
<text x="271.30" y="441.6" font-size="3.6" font-weight="bold" text-anchor="middle" fill="#222">10<tspan font-size="2.6" dy="-1.3">3</tspan></text>
<text x="292.30" y="441.6" font-size="3.6" font-weight="bold" text-anchor="middle" fill="#222">10<tspan font-size="2.6" dy="-1.3">4</tspan></text>
<text x="311.80" y="441.6" font-size="3.6" font-weight="bold" text-anchor="middle" fill="#222">10<tspan font-size="2.6" dy="-1.3">5</tspan></text>
<text x="253.30" y="441.60" font-size="3.6" font-weight="bold" font-style="normal" text-anchor="middle" fill="#222">0</text>
<line x1="240.80" y1="435.00" x2="240.80" y2="437.40" stroke="#222" stroke-width="0.7" stroke-linecap="butt"/>
<line x1="253.30" y1="435.00" x2="253.30" y2="437.40" stroke="#222" stroke-width="0.7" stroke-linecap="butt"/>
<line x1="271.30" y1="435.00" x2="271.30" y2="437.40" stroke="#222" stroke-width="0.7" stroke-linecap="butt"/>
<line x1="292.30" y1="435.00" x2="292.30" y2="437.40" stroke="#222" stroke-width="0.7" stroke-linecap="butt"/>
<line x1="311.80" y1="435.00" x2="311.80" y2="437.40" stroke="#222" stroke-width="0.7" stroke-linecap="butt"/>
<line x1="261.30" y1="435.00" x2="261.30" y2="436.40" stroke="#555" stroke-width="0.5" stroke-linecap="butt"/>
<line x1="265.30" y1="435.00" x2="265.30" y2="436.40" stroke="#555" stroke-width="0.5" stroke-linecap="butt"/>
<line x1="267.80" y1="435.00" x2="267.80" y2="436.40" stroke="#555" stroke-width="0.5" stroke-linecap="butt"/>
<line x1="269.80" y1="435.00" x2="269.80" y2="436.40" stroke="#555" stroke-width="0.5" stroke-linecap="butt"/>
<line x1="282.30" y1="435.00" x2="282.30" y2="436.40" stroke="#555" stroke-width="0.5" stroke-linecap="butt"/>
<line x1="286.30" y1="435.00" x2="286.30" y2="436.40" stroke="#555" stroke-width="0.5" stroke-linecap="butt"/>
<line x1="288.80" y1="435.00" x2="288.80" y2="436.40" stroke="#555" stroke-width="0.5" stroke-linecap="butt"/>
<line x1="290.80" y1="435.00" x2="290.80" y2="436.40" stroke="#555" stroke-width="0.5" stroke-linecap="butt"/>
<line x1="302.30" y1="435.00" x2="302.30" y2="436.40" stroke="#555" stroke-width="0.5" stroke-linecap="butt"/>
<line x1="306.30" y1="435.00" x2="306.30" y2="436.40" stroke="#555" stroke-width="0.5" stroke-linecap="butt"/>
<line x1="308.80" y1="435.00" x2="308.80" y2="436.40" stroke="#555" stroke-width="0.5" stroke-linecap="butt"/>
<line x1="310.30" y1="435.00" x2="310.30" y2="436.40" stroke="#555" stroke-width="0.5" stroke-linecap="butt"/>
<rect x="249.30" y="435.4" width="7.5" height="1.5" fill="#111"/>
<g filter="url(#soft)">
<path d="M252.50,422.50 C251.67,421.38 254.08,419.25 256.00,417.50 C257.92,415.75 261.17,413.75 264.00,412.00 C266.83,410.25 270.17,408.75 273.00,407.00 C275.83,405.25 278.58,402.83 281.00,401.50 C283.42,400.17 285.67,399.17 287.50,399.00 C289.33,398.83 290.92,399.33 292.00,400.50 C293.08,401.67 293.92,403.92 294.00,406.00 C294.08,408.08 293.42,410.75 292.50,413.00 C291.58,415.25 290.25,417.70 288.50,419.50 C286.75,421.30 284.75,422.95 282.00,423.80 C279.25,424.65 275.50,424.53 272.00,424.60 C268.50,424.67 264.25,424.55 261.00,424.20 C257.75,423.85 253.33,423.62 252.50,422.50Z" fill="rgba(40,40,40,0.075)" stroke="#333" stroke-opacity="0.60" stroke-width="0.6"/>
<path d="M255.72,421.77 C254.99,420.79 257.11,418.92 258.79,417.38 C260.48,415.84 263.33,414.08 265.82,412.55 C268.31,411.01 271.24,409.69 273.73,408.15 C276.22,406.62 278.63,404.49 280.76,403.32 C282.88,402.15 284.86,401.27 286.47,401.12 C288.08,400.98 289.47,401.42 290.42,402.44 C291.37,403.47 292.11,405.44 292.18,407.27 C292.25,409.11 291.67,411.45 290.86,413.43 C290.06,415.40 288.88,417.55 287.35,419.14 C285.81,420.72 284.05,422.17 281.64,422.91 C279.22,423.66 275.93,423.56 272.85,423.62 C269.78,423.68 266.04,423.57 263.19,423.26 C260.33,422.96 256.45,422.75 255.72,421.77Z" fill="rgba(40,40,40,0.075)" stroke="#333" stroke-opacity="0.64" stroke-width="0.6"/>
<path d="M258.94,421.04 C258.30,420.20 260.13,418.58 261.59,417.26 C263.04,415.93 265.50,414.42 267.64,413.09 C269.79,411.77 272.31,410.63 274.46,409.31 C276.60,407.98 278.68,406.15 280.51,405.14 C282.34,404.13 284.05,403.38 285.44,403.25 C286.82,403.12 288.02,403.50 288.84,404.39 C289.66,405.27 290.29,406.97 290.36,408.55 C290.42,410.13 289.92,412.15 289.22,413.85 C288.53,415.55 287.52,417.41 286.19,418.77 C284.87,420.13 283.35,421.38 281.27,422.03 C279.19,422.67 276.35,422.58 273.70,422.63 C271.05,422.68 267.83,422.59 265.37,422.33 C262.91,422.06 259.57,421.89 258.94,421.04Z" fill="rgba(40,40,40,0.075)" stroke="#333" stroke-opacity="0.67" stroke-width="0.6"/>
<path d="M262.15,420.31 C261.62,419.60 263.16,418.25 264.38,417.14 C265.60,416.02 267.66,414.75 269.46,413.64 C271.27,412.53 273.38,411.57 275.19,410.46 C276.99,409.35 278.74,407.81 280.27,406.96 C281.81,406.12 283.24,405.48 284.40,405.38 C285.57,405.27 286.58,405.59 287.26,406.33 C287.95,407.07 288.48,408.50 288.54,409.82 C288.59,411.15 288.16,412.84 287.58,414.27 C287.00,415.71 286.15,417.26 285.04,418.41 C283.93,419.55 282.66,420.60 280.91,421.14 C279.16,421.68 276.77,421.61 274.55,421.65 C272.33,421.69 269.62,421.62 267.56,421.39 C265.49,421.17 262.68,421.02 262.15,420.31Z" fill="rgba(40,40,40,0.075)" stroke="#333" stroke-opacity="0.71" stroke-width="0.6"/>
<path d="M265.37,419.59 C264.94,419.01 266.19,417.91 267.17,417.01 C268.16,416.11 269.83,415.09 271.29,414.19 C272.74,413.29 274.46,412.51 275.91,411.61 C277.37,410.71 278.79,409.47 280.03,408.79 C281.27,408.10 282.43,407.59 283.37,407.50 C284.31,407.41 285.13,407.67 285.69,408.27 C286.24,408.87 286.67,410.03 286.71,411.10 C286.76,412.17 286.41,413.54 285.94,414.70 C285.47,415.86 284.79,417.12 283.89,418.04 C282.99,418.97 281.96,419.82 280.54,420.25 C279.13,420.69 277.20,420.63 275.40,420.67 C273.60,420.70 271.41,420.64 269.74,420.46 C268.07,420.28 265.80,420.16 265.37,419.59Z" fill="rgba(40,40,40,0.075)" stroke="#333" stroke-opacity="0.74" stroke-width="0.6"/>
<path d="M268.59,418.86 C268.26,418.42 269.21,417.58 269.96,416.89 C270.72,416.21 271.99,415.42 273.11,414.73 C274.22,414.04 275.53,413.46 276.64,412.77 C277.76,412.08 278.84,411.13 279.79,410.61 C280.74,410.08 281.62,409.69 282.34,409.62 C283.06,409.56 283.68,409.76 284.11,410.21 C284.53,410.67 284.86,411.56 284.89,412.38 C284.93,413.19 284.66,414.24 284.30,415.12 C283.94,416.01 283.42,416.97 282.73,417.68 C282.04,418.39 281.26,419.03 280.18,419.37 C279.10,419.70 277.62,419.66 276.25,419.68 C274.88,419.71 273.21,419.66 271.93,419.52 C270.65,419.39 268.92,419.30 268.59,418.86Z" fill="rgba(40,40,40,0.075)" stroke="#333" stroke-opacity="0.78" stroke-width="0.6"/>
<path d="M271.81,418.13 C271.58,417.83 272.24,417.25 272.76,416.77 C273.28,416.30 274.16,415.75 274.93,415.28 C275.70,414.80 276.60,414.40 277.37,413.92 C278.14,413.45 278.89,412.79 279.54,412.43 C280.20,412.07 280.81,411.80 281.31,411.75 C281.80,411.70 282.23,411.84 282.53,412.16 C282.82,412.47 283.05,413.08 283.07,413.65 C283.09,414.22 282.91,414.94 282.66,415.55 C282.42,416.16 282.05,416.83 281.58,417.31 C281.10,417.80 280.56,418.25 279.81,418.48 C279.07,418.71 278.05,418.68 277.10,418.70 C276.15,418.72 275.00,418.68 274.11,418.59 C273.23,418.50 272.03,418.43 271.81,418.13Z" fill="rgba(40,40,40,0.075)" stroke="#333" stroke-opacity="0.81" stroke-width="0.6"/>
<path d="M275.02,417.40 C274.90,417.23 275.26,416.91 275.55,416.65 C275.84,416.39 276.32,416.09 276.75,415.82 C277.18,415.56 277.68,415.34 278.10,415.07 C278.53,414.81 278.94,414.45 279.30,414.25 C279.66,414.05 280.00,413.90 280.27,413.88 C280.55,413.85 280.79,413.93 280.95,414.10 C281.11,414.28 281.24,414.61 281.25,414.93 C281.26,415.24 281.16,415.64 281.02,415.98 C280.89,416.31 280.69,416.68 280.43,416.95 C280.16,417.22 279.86,417.47 279.45,417.60 C279.04,417.72 278.47,417.71 277.95,417.72 C277.43,417.73 276.79,417.71 276.30,417.65 C275.81,417.60 275.15,417.57 275.02,417.40Z" fill="rgba(40,40,40,0.075)" stroke="#333" stroke-opacity="0.85" stroke-width="0.6"/>
</g>
<ellipse cx="279.5" cy="420.3" rx="3.2" ry="1.6" fill="#fff" fill-opacity="0.85" transform="rotate(-15 279.5 420.3)"/>
<polygon points="274.60,369.50 314.00,369.50 314.00,424.20 257.70,424.20 274.60,413.80" fill="none" stroke="#555" stroke-width="0.8" stroke-linejoin="miter"/>
<text x="286.20" y="384.20" font-size="13.4" font-weight="normal" font-style="normal" text-anchor="start" textLength="26.80" lengthAdjust="spacingAndGlyphs"  stroke="#000" stroke-width="0.3">81.6</text>
<text x="250.50" y="454.00" font-size="12.3" font-weight="normal" font-style="normal" text-anchor="start" textLength="47.00" lengthAdjust="spacingAndGlyphs"  stroke="#000" stroke-width="0.3">PE-Mertk</text>
<rect x="330.60" y="352.70" width="82.50" height="82.10" fill="#fff" stroke="#000" stroke-width="1.45"/>
<text x="326.30" y="357.40" font-size="3.9" font-weight="bold" font-style="normal" text-anchor="end" fill="#222">250K</text>
<line x1="327.10" y1="356.00" x2="329.50" y2="356.00" stroke="#222" stroke-width="0.7" stroke-linecap="butt"/>
<text x="326.30" y="371.60" font-size="3.9" font-weight="bold" font-style="normal" text-anchor="end" fill="#222">200K</text>
<line x1="327.10" y1="370.20" x2="329.50" y2="370.20" stroke="#222" stroke-width="0.7" stroke-linecap="butt"/>
<text x="326.30" y="385.90" font-size="3.9" font-weight="bold" font-style="normal" text-anchor="end" fill="#222">150K</text>
<line x1="327.10" y1="384.50" x2="329.50" y2="384.50" stroke="#222" stroke-width="0.7" stroke-linecap="butt"/>
<text x="326.30" y="400.20" font-size="3.9" font-weight="bold" font-style="normal" text-anchor="end" fill="#222">100K</text>
<line x1="327.10" y1="398.80" x2="329.50" y2="398.80" stroke="#222" stroke-width="0.7" stroke-linecap="butt"/>
<text x="326.30" y="414.40" font-size="3.9" font-weight="bold" font-style="normal" text-anchor="end" fill="#222">50K</text>
<line x1="327.10" y1="413.00" x2="329.50" y2="413.00" stroke="#222" stroke-width="0.7" stroke-linecap="butt"/>
<text x="326.30" y="428.60" font-size="3.9" font-weight="bold" font-style="normal" text-anchor="end" fill="#222">0</text>
<line x1="327.10" y1="427.20" x2="329.50" y2="427.20" stroke="#222" stroke-width="0.7" stroke-linecap="butt"/>
<text x="338.10" y="441.6" font-size="3.6" font-weight="bold" text-anchor="middle" fill="#222">-10<tspan font-size="2.6" dy="-1.3">3</tspan></text>
<text x="368.60" y="441.6" font-size="3.6" font-weight="bold" text-anchor="middle" fill="#222">10<tspan font-size="2.6" dy="-1.3">3</tspan></text>
<text x="389.60" y="441.6" font-size="3.6" font-weight="bold" text-anchor="middle" fill="#222">10<tspan font-size="2.6" dy="-1.3">4</tspan></text>
<text x="409.10" y="441.6" font-size="3.6" font-weight="bold" text-anchor="middle" fill="#222">10<tspan font-size="2.6" dy="-1.3">5</tspan></text>
<text x="350.60" y="441.60" font-size="3.6" font-weight="bold" font-style="normal" text-anchor="middle" fill="#222">0</text>
<line x1="338.10" y1="435.00" x2="338.10" y2="437.40" stroke="#222" stroke-width="0.7" stroke-linecap="butt"/>
<line x1="350.60" y1="435.00" x2="350.60" y2="437.40" stroke="#222" stroke-width="0.7" stroke-linecap="butt"/>
<line x1="368.60" y1="435.00" x2="368.60" y2="437.40" stroke="#222" stroke-width="0.7" stroke-linecap="butt"/>
<line x1="389.60" y1="435.00" x2="389.60" y2="437.40" stroke="#222" stroke-width="0.7" stroke-linecap="butt"/>
<line x1="409.10" y1="435.00" x2="409.10" y2="437.40" stroke="#222" stroke-width="0.7" stroke-linecap="butt"/>
<line x1="358.60" y1="435.00" x2="358.60" y2="436.40" stroke="#555" stroke-width="0.5" stroke-linecap="butt"/>
<line x1="362.60" y1="435.00" x2="362.60" y2="436.40" stroke="#555" stroke-width="0.5" stroke-linecap="butt"/>
<line x1="365.10" y1="435.00" x2="365.10" y2="436.40" stroke="#555" stroke-width="0.5" stroke-linecap="butt"/>
<line x1="367.10" y1="435.00" x2="367.10" y2="436.40" stroke="#555" stroke-width="0.5" stroke-linecap="butt"/>
<line x1="379.60" y1="435.00" x2="379.60" y2="436.40" stroke="#555" stroke-width="0.5" stroke-linecap="butt"/>
<line x1="383.60" y1="435.00" x2="383.60" y2="436.40" stroke="#555" stroke-width="0.5" stroke-linecap="butt"/>
<line x1="386.10" y1="435.00" x2="386.10" y2="436.40" stroke="#555" stroke-width="0.5" stroke-linecap="butt"/>
<line x1="388.10" y1="435.00" x2="388.10" y2="436.40" stroke="#555" stroke-width="0.5" stroke-linecap="butt"/>
<line x1="399.60" y1="435.00" x2="399.60" y2="436.40" stroke="#555" stroke-width="0.5" stroke-linecap="butt"/>
<line x1="403.60" y1="435.00" x2="403.60" y2="436.40" stroke="#555" stroke-width="0.5" stroke-linecap="butt"/>
<line x1="406.10" y1="435.00" x2="406.10" y2="436.40" stroke="#555" stroke-width="0.5" stroke-linecap="butt"/>
<line x1="407.60" y1="435.00" x2="407.60" y2="436.40" stroke="#555" stroke-width="0.5" stroke-linecap="butt"/>
<rect x="346.60" y="435.4" width="7.5" height="1.5" fill="#111"/>
<g filter="url(#soft)">
<path d="M351.00,424.80 C350.42,424.54 349.35,422.48 349.16,420.67 C348.98,418.86 349.28,416.24 349.89,413.96 C350.50,411.68 351.69,409.25 352.82,406.99 C353.95,404.74 355.31,402.38 356.66,400.43 C358.02,398.49 359.65,396.80 360.95,395.32 C362.26,393.83 363.57,392.35 364.48,391.51 C365.39,390.68 366.18,390.20 366.40,390.30 C366.62,390.40 366.18,391.03 365.77,392.09 C365.37,393.15 364.67,394.90 363.96,396.66 C363.26,398.41 362.45,400.47 361.55,402.62 C360.65,404.77 359.58,407.25 358.57,409.56 C357.56,411.87 356.46,414.34 355.47,416.45 C354.48,418.56 353.36,420.82 352.62,422.21 C351.87,423.60 351.58,425.06 351.00,424.80Z" fill="rgba(40,40,40,0.06)" stroke="#333" stroke-opacity="0.60" stroke-width="0.6"/>
<path d="M351.36,423.51 C350.88,423.29 349.98,421.55 349.82,420.04 C349.67,418.52 349.92,416.32 350.43,414.40 C350.94,412.49 351.94,410.44 352.89,408.55 C353.84,406.65 354.98,404.67 356.12,403.04 C357.26,401.40 358.63,399.99 359.73,398.74 C360.82,397.49 361.92,396.25 362.69,395.54 C363.45,394.84 364.12,394.44 364.30,394.53 C364.48,394.61 364.11,395.14 363.77,396.03 C363.43,396.92 362.84,398.39 362.25,399.87 C361.66,401.34 360.98,403.07 360.23,404.87 C359.47,406.68 358.57,408.77 357.72,410.70 C356.87,412.64 355.95,414.72 355.12,416.49 C354.28,418.26 353.35,420.16 352.72,421.33 C352.09,422.50 351.85,423.72 351.36,423.51Z" fill="rgba(40,40,40,0.06)" stroke="#333" stroke-opacity="0.66" stroke-width="0.6"/>
<path d="M351.73,422.21 C351.34,422.04 350.60,420.63 350.48,419.40 C350.35,418.17 350.56,416.39 350.97,414.84 C351.39,413.29 352.19,411.64 352.96,410.10 C353.73,408.57 354.65,406.97 355.58,405.64 C356.50,404.32 357.61,403.17 358.50,402.16 C359.38,401.15 360.28,400.14 360.89,399.58 C361.51,399.01 362.05,398.69 362.20,398.75 C362.34,398.82 362.05,399.25 361.77,399.97 C361.50,400.69 361.02,401.88 360.54,403.08 C360.06,404.27 359.51,405.67 358.90,407.13 C358.29,408.59 357.56,410.28 356.87,411.85 C356.18,413.42 355.44,415.10 354.77,416.53 C354.09,417.97 353.33,419.50 352.82,420.45 C352.32,421.40 352.12,422.39 351.73,422.21Z" fill="rgba(40,40,40,0.06)" stroke="#333" stroke-opacity="0.72" stroke-width="0.6"/>
<path d="M352.09,420.92 C351.79,420.78 351.23,419.71 351.13,418.77 C351.04,417.83 351.20,416.47 351.51,415.28 C351.83,414.10 352.45,412.83 353.03,411.66 C353.62,410.48 354.33,409.26 355.03,408.25 C355.74,407.24 356.59,406.36 357.27,405.59 C357.94,404.81 358.63,404.04 359.10,403.61 C359.57,403.17 359.99,402.93 360.10,402.98 C360.21,403.03 359.98,403.36 359.77,403.91 C359.56,404.46 359.20,405.37 358.83,406.28 C358.46,407.20 358.04,408.26 357.58,409.38 C357.11,410.50 356.55,411.79 356.03,412.99 C355.50,414.19 354.93,415.48 354.41,416.58 C353.90,417.67 353.32,418.85 352.93,419.57 C352.54,420.29 352.39,421.05 352.09,420.92Z" fill="rgba(40,40,40,0.06)" stroke="#333" stroke-opacity="0.78" stroke-width="0.6"/>
<path d="M352.45,419.62 C352.25,419.53 351.86,418.79 351.79,418.14 C351.72,417.49 351.83,416.54 352.05,415.72 C352.27,414.90 352.70,414.02 353.11,413.21 C353.51,412.40 354.00,411.55 354.49,410.85 C354.98,410.15 355.57,409.54 356.04,409.01 C356.51,408.47 356.98,407.94 357.30,407.64 C357.63,407.34 357.92,407.17 358.00,407.20 C358.07,407.24 357.92,407.47 357.77,407.85 C357.62,408.23 357.37,408.86 357.12,409.49 C356.87,410.12 356.58,410.86 356.25,411.64 C355.93,412.41 355.54,413.31 355.18,414.14 C354.81,414.97 354.42,415.86 354.06,416.62 C353.70,417.38 353.30,418.19 353.03,418.69 C352.77,419.19 352.66,419.72 352.45,419.62Z" fill="rgba(40,40,40,0.06)" stroke="#333" stroke-opacity="0.84" stroke-width="0.6"/>
<path d="M352.82,418.33 C352.70,418.28 352.49,417.86 352.45,417.50 C352.41,417.14 352.47,416.62 352.59,416.16 C352.72,415.70 352.95,415.22 353.18,414.77 C353.40,414.32 353.68,413.84 353.95,413.46 C354.22,413.07 354.55,412.73 354.81,412.43 C355.07,412.13 355.33,411.84 355.51,411.67 C355.69,411.50 355.85,411.41 355.90,411.43 C355.94,411.45 355.85,411.57 355.77,411.79 C355.69,412.00 355.55,412.35 355.41,412.70 C355.27,413.05 355.11,413.46 354.93,413.89 C354.75,414.32 354.53,414.82 354.33,415.28 C354.13,415.74 353.91,416.24 353.71,416.66 C353.51,417.08 353.29,417.53 353.14,417.81 C352.99,418.09 352.93,418.38 352.82,418.33Z" fill="rgba(40,40,40,0.06)" stroke="#333" stroke-opacity="0.90" stroke-width="0.6"/>
</g>
<line x1="349.83" y1="422.62" x2="355.63" y2="406.18" stroke="#111" stroke-opacity="0.75" stroke-width="2.2" stroke-linecap="round" filter="url(#soft)"/>
<polygon points="372.60,367.40 411.40,367.40 411.40,425.40 351.40,425.40 372.60,415.00" fill="none" stroke="#555" stroke-width="0.8" stroke-linejoin="miter"/>
<text x="383.20" y="383.40" font-size="13.4" font-weight="normal" font-style="normal" text-anchor="start" textLength="26.80" lengthAdjust="spacingAndGlyphs"  stroke="#000" stroke-width="0.3">0.83</text>
<text x="346.30" y="454.00" font-size="12.3" font-weight="normal" font-style="normal" text-anchor="start" textLength="55.70" lengthAdjust="spacingAndGlyphs"  stroke="#000" stroke-width="0.3">PE-Isotype</text>
<rect x="428.10" y="352.70" width="83.30" height="82.10" fill="#fff" stroke="#000" stroke-width="1.45"/>
<text x="423.80" y="357.40" font-size="3.9" font-weight="bold" font-style="normal" text-anchor="end" fill="#222">250K</text>
<line x1="424.60" y1="356.00" x2="427.00" y2="356.00" stroke="#222" stroke-width="0.7" stroke-linecap="butt"/>
<text x="423.80" y="371.60" font-size="3.9" font-weight="bold" font-style="normal" text-anchor="end" fill="#222">200K</text>
<line x1="424.60" y1="370.20" x2="427.00" y2="370.20" stroke="#222" stroke-width="0.7" stroke-linecap="butt"/>
<text x="423.80" y="385.90" font-size="3.9" font-weight="bold" font-style="normal" text-anchor="end" fill="#222">150K</text>
<line x1="424.60" y1="384.50" x2="427.00" y2="384.50" stroke="#222" stroke-width="0.7" stroke-linecap="butt"/>
<text x="423.80" y="400.20" font-size="3.9" font-weight="bold" font-style="normal" text-anchor="end" fill="#222">100K</text>
<line x1="424.60" y1="398.80" x2="427.00" y2="398.80" stroke="#222" stroke-width="0.7" stroke-linecap="butt"/>
<text x="423.80" y="414.40" font-size="3.9" font-weight="bold" font-style="normal" text-anchor="end" fill="#222">50K</text>
<line x1="424.60" y1="413.00" x2="427.00" y2="413.00" stroke="#222" stroke-width="0.7" stroke-linecap="butt"/>
<text x="423.80" y="428.60" font-size="3.9" font-weight="bold" font-style="normal" text-anchor="end" fill="#222">0</text>
<line x1="424.60" y1="427.20" x2="427.00" y2="427.20" stroke="#222" stroke-width="0.7" stroke-linecap="butt"/>
<text x="435.60" y="441.6" font-size="3.6" font-weight="bold" text-anchor="middle" fill="#222">-10<tspan font-size="2.6" dy="-1.3">3</tspan></text>
<text x="466.10" y="441.6" font-size="3.6" font-weight="bold" text-anchor="middle" fill="#222">10<tspan font-size="2.6" dy="-1.3">3</tspan></text>
<text x="487.10" y="441.6" font-size="3.6" font-weight="bold" text-anchor="middle" fill="#222">10<tspan font-size="2.6" dy="-1.3">4</tspan></text>
<text x="506.60" y="441.6" font-size="3.6" font-weight="bold" text-anchor="middle" fill="#222">10<tspan font-size="2.6" dy="-1.3">5</tspan></text>
<text x="448.10" y="441.60" font-size="3.6" font-weight="bold" font-style="normal" text-anchor="middle" fill="#222">0</text>
<line x1="435.60" y1="435.00" x2="435.60" y2="437.40" stroke="#222" stroke-width="0.7" stroke-linecap="butt"/>
<line x1="448.10" y1="435.00" x2="448.10" y2="437.40" stroke="#222" stroke-width="0.7" stroke-linecap="butt"/>
<line x1="466.10" y1="435.00" x2="466.10" y2="437.40" stroke="#222" stroke-width="0.7" stroke-linecap="butt"/>
<line x1="487.10" y1="435.00" x2="487.10" y2="437.40" stroke="#222" stroke-width="0.7" stroke-linecap="butt"/>
<line x1="506.60" y1="435.00" x2="506.60" y2="437.40" stroke="#222" stroke-width="0.7" stroke-linecap="butt"/>
<line x1="456.10" y1="435.00" x2="456.10" y2="436.40" stroke="#555" stroke-width="0.5" stroke-linecap="butt"/>
<line x1="460.10" y1="435.00" x2="460.10" y2="436.40" stroke="#555" stroke-width="0.5" stroke-linecap="butt"/>
<line x1="462.60" y1="435.00" x2="462.60" y2="436.40" stroke="#555" stroke-width="0.5" stroke-linecap="butt"/>
<line x1="464.60" y1="435.00" x2="464.60" y2="436.40" stroke="#555" stroke-width="0.5" stroke-linecap="butt"/>
<line x1="477.10" y1="435.00" x2="477.10" y2="436.40" stroke="#555" stroke-width="0.5" stroke-linecap="butt"/>
<line x1="481.10" y1="435.00" x2="481.10" y2="436.40" stroke="#555" stroke-width="0.5" stroke-linecap="butt"/>
<line x1="483.60" y1="435.00" x2="483.60" y2="436.40" stroke="#555" stroke-width="0.5" stroke-linecap="butt"/>
<line x1="485.60" y1="435.00" x2="485.60" y2="436.40" stroke="#555" stroke-width="0.5" stroke-linecap="butt"/>
<line x1="497.10" y1="435.00" x2="497.10" y2="436.40" stroke="#555" stroke-width="0.5" stroke-linecap="butt"/>
<line x1="501.10" y1="435.00" x2="501.10" y2="436.40" stroke="#555" stroke-width="0.5" stroke-linecap="butt"/>
<line x1="503.60" y1="435.00" x2="503.60" y2="436.40" stroke="#555" stroke-width="0.5" stroke-linecap="butt"/>
<line x1="505.10" y1="435.00" x2="505.10" y2="436.40" stroke="#555" stroke-width="0.5" stroke-linecap="butt"/>
<rect x="444.10" y="435.4" width="7.5" height="1.5" fill="#111"/>
<g filter="url(#soft)">
<path d="M449.60,423.20 C448.45,422.10 453.63,419.27 455.70,418.00 C457.77,416.73 459.98,416.22 462.00,415.60 C464.02,414.98 465.80,415.07 467.80,414.30 C469.80,413.53 471.97,412.30 474.00,411.00 C476.03,409.70 478.08,408.33 480.00,406.50 C481.92,404.67 483.78,402.27 485.50,400.00 C487.22,397.73 488.82,394.93 490.30,392.90 C491.78,390.87 493.38,387.52 494.40,387.80 C495.42,388.08 496.13,392.07 496.40,394.60 C496.67,397.13 496.35,400.35 496.00,403.00 C495.65,405.65 495.55,407.62 494.30,410.50 C493.05,413.38 491.48,417.92 488.50,420.30 C485.52,422.68 480.72,424.08 476.40,424.80 C472.08,425.52 467.07,424.87 462.60,424.60 C458.13,424.33 450.75,424.30 449.60,423.20Z" fill="rgba(40,40,40,0.075)" stroke="#333" stroke-opacity="0.60" stroke-width="0.6"/>
<path d="M453.16,422.41 C452.14,421.43 456.75,418.91 458.59,417.78 C460.43,416.65 462.41,416.19 464.20,415.64 C465.99,415.10 467.58,415.17 469.36,414.49 C471.14,413.80 473.07,412.71 474.88,411.55 C476.69,410.39 478.51,409.18 480.22,407.55 C481.93,405.91 483.59,403.78 485.12,401.76 C486.64,399.74 488.07,397.25 489.39,395.44 C490.71,393.63 492.13,390.65 493.04,390.90 C493.94,391.15 494.58,394.70 494.82,396.95 C495.05,399.21 494.77,402.07 494.46,404.43 C494.15,406.79 494.06,408.54 492.95,411.11 C491.83,413.67 490.44,417.71 487.79,419.83 C485.13,421.95 480.86,423.19 477.02,423.83 C473.17,424.47 468.71,423.89 464.73,423.65 C460.76,423.42 454.19,423.39 453.16,422.41Z" fill="rgba(40,40,40,0.075)" stroke="#333" stroke-opacity="0.63" stroke-width="0.6"/>
<path d="M456.73,421.62 C455.83,420.76 459.87,418.55 461.49,417.56 C463.10,416.57 464.83,416.17 466.40,415.69 C467.97,415.21 469.36,415.27 470.92,414.67 C472.48,414.08 474.17,413.11 475.76,412.10 C477.35,411.09 478.94,410.02 480.44,408.59 C481.94,407.16 483.39,405.29 484.73,403.52 C486.07,401.75 487.32,399.57 488.47,397.98 C489.63,396.40 490.88,393.78 491.67,394.00 C492.46,394.23 493.02,397.33 493.23,399.31 C493.44,401.28 493.19,403.79 492.92,405.86 C492.65,407.93 492.57,409.46 491.59,411.71 C490.62,413.96 489.40,417.50 487.07,419.35 C484.74,421.21 481.00,422.31 477.63,422.86 C474.26,423.42 470.35,422.92 466.87,422.71 C463.38,422.50 457.62,422.47 456.73,421.62Z" fill="rgba(40,40,40,0.075)" stroke="#333" stroke-opacity="0.66" stroke-width="0.6"/>
<path d="M460.29,420.82 C459.52,420.09 462.99,418.19 464.38,417.34 C465.76,416.49 467.25,416.15 468.60,415.73 C469.95,415.32 471.15,415.37 472.49,414.86 C473.83,414.35 475.28,413.52 476.64,412.65 C478.00,411.78 479.38,410.86 480.66,409.63 C481.94,408.41 483.19,406.80 484.35,405.28 C485.50,403.76 486.57,401.89 487.56,400.52 C488.55,399.16 489.63,396.92 490.31,397.11 C490.99,397.30 491.47,399.96 491.65,401.66 C491.83,403.36 491.61,405.51 491.38,407.29 C491.15,409.07 491.08,410.38 490.24,412.31 C489.40,414.25 488.35,417.28 486.36,418.88 C484.36,420.48 481.14,421.42 478.25,421.90 C475.36,422.38 471.99,421.94 469.00,421.76 C466.01,421.58 461.06,421.56 460.29,420.82Z" fill="rgba(40,40,40,0.075)" stroke="#333" stroke-opacity="0.69" stroke-width="0.6"/>
<path d="M463.86,420.03 C463.21,419.42 466.11,417.83 467.27,417.12 C468.43,416.41 469.67,416.12 470.80,415.78 C471.93,415.43 472.93,415.48 474.05,415.05 C475.17,414.62 476.38,413.93 477.52,413.20 C478.66,412.47 479.81,411.71 480.88,410.68 C481.95,409.65 483.00,408.31 483.96,407.04 C484.92,405.77 485.82,404.20 486.65,403.06 C487.48,401.93 488.37,400.05 488.94,400.21 C489.51,400.37 489.91,402.60 490.06,404.02 C490.21,405.43 490.04,407.24 489.84,408.72 C489.64,410.20 489.59,411.31 488.89,412.92 C488.19,414.53 487.31,417.07 485.64,418.41 C483.97,419.74 481.28,420.53 478.86,420.93 C476.45,421.33 473.64,420.97 471.14,420.82 C468.63,420.67 464.50,420.65 463.86,420.03Z" fill="rgba(40,40,40,0.075)" stroke="#333" stroke-opacity="0.72" stroke-width="0.6"/>
<path d="M467.42,419.24 C466.90,418.75 469.24,417.47 470.17,416.90 C471.10,416.33 472.09,416.10 473.00,415.82 C473.91,415.54 474.71,415.58 475.61,415.24 C476.51,414.89 477.48,414.33 478.40,413.75 C479.31,413.17 480.24,412.55 481.10,411.73 C481.96,410.90 482.80,409.82 483.57,408.80 C484.35,407.78 485.07,406.52 485.74,405.61 C486.40,404.69 487.12,403.18 487.58,403.31 C488.04,403.44 488.36,405.23 488.48,406.37 C488.60,407.51 488.46,408.96 488.30,410.15 C488.14,411.34 488.10,412.23 487.54,413.52 C486.97,414.82 486.27,416.86 484.93,417.94 C483.58,419.01 481.42,419.64 479.48,419.96 C477.54,420.28 475.28,419.99 473.27,419.87 C471.26,419.75 467.94,419.74 467.42,419.24Z" fill="rgba(40,40,40,0.075)" stroke="#333" stroke-opacity="0.76" stroke-width="0.6"/>
<path d="M470.98,418.45 C470.59,418.07 472.36,417.11 473.06,416.68 C473.76,416.25 474.51,416.07 475.20,415.86 C475.89,415.65 476.49,415.68 477.17,415.42 C477.85,415.16 478.59,414.74 479.28,414.30 C479.97,413.86 480.67,413.39 481.32,412.77 C481.97,412.15 482.61,411.33 483.19,410.56 C483.77,409.79 484.32,408.84 484.82,408.15 C485.33,407.45 485.87,406.32 486.22,406.41 C486.56,406.51 486.81,407.86 486.90,408.72 C486.99,409.59 486.88,410.68 486.76,411.58 C486.64,412.48 486.61,413.15 486.18,414.13 C485.76,415.11 485.22,416.65 484.21,417.46 C483.20,418.27 481.56,418.75 480.10,418.99 C478.63,419.24 476.92,419.01 475.40,418.92 C473.89,418.83 471.38,418.82 470.98,418.45Z" fill="rgba(40,40,40,0.075)" stroke="#333" stroke-opacity="0.79" stroke-width="0.6"/>
<path d="M474.55,417.66 C474.28,417.40 475.48,416.75 475.95,416.46 C476.43,416.17 476.94,416.05 477.40,415.91 C477.86,415.77 478.27,415.79 478.73,415.61 C479.19,415.43 479.69,415.15 480.16,414.85 C480.63,414.55 481.10,414.24 481.54,413.81 C481.98,413.39 482.41,412.84 482.81,412.32 C483.20,411.80 483.57,411.15 483.91,410.69 C484.25,410.22 484.62,409.45 484.85,409.51 C485.09,409.58 485.25,410.50 485.31,411.08 C485.37,411.66 485.30,412.40 485.22,413.01 C485.14,413.62 485.12,414.07 484.83,414.74 C484.54,415.40 484.18,416.44 483.50,416.99 C482.81,417.54 481.70,417.86 480.71,418.02 C479.72,418.19 478.57,418.04 477.54,417.98 C476.51,417.92 474.81,417.91 474.55,417.66Z" fill="rgba(40,40,40,0.075)" stroke="#333" stroke-opacity="0.82" stroke-width="0.6"/>
<path d="M478.11,416.86 C477.97,416.73 478.60,416.39 478.84,416.24 C479.09,416.09 479.36,416.03 479.60,415.95 C479.84,415.88 480.06,415.89 480.30,415.80 C480.54,415.70 480.80,415.56 481.04,415.40 C481.28,415.24 481.53,415.08 481.76,414.86 C481.99,414.64 482.21,414.35 482.42,414.08 C482.63,413.81 482.82,413.47 483.00,413.23 C483.17,412.98 483.37,412.58 483.49,412.62 C483.61,412.65 483.70,413.13 483.73,413.43 C483.76,413.74 483.72,414.12 483.68,414.44 C483.64,414.76 483.63,414.99 483.48,415.34 C483.33,415.69 483.14,416.23 482.78,416.52 C482.42,416.80 481.85,416.97 481.33,417.06 C480.81,417.14 480.21,417.06 479.67,417.03 C479.14,417.00 478.25,417.00 478.11,416.86Z" fill="rgba(40,40,40,0.075)" stroke="#333" stroke-opacity="0.85" stroke-width="0.6"/>
</g>
<polygon points="469.50,367.40 508.40,367.40 508.40,425.40 449.10,425.40 469.50,414.00" fill="none" stroke="#555" stroke-width="0.8" stroke-linejoin="miter"/>
<text x="480.00" y="383.40" font-size="13.4" font-weight="normal" font-style="normal" text-anchor="start" textLength="26.30" lengthAdjust="spacingAndGlyphs"  stroke="#000" stroke-width="0.3">95.2</text>
<text x="446.30" y="454.00" font-size="12.3" font-weight="normal" font-style="normal" text-anchor="start" textLength="46.70" lengthAdjust="spacingAndGlyphs"  stroke="#000" stroke-width="0.3">PE-Mertk</text>
<line x1="109.50" y1="403.70" x2="141.00" y2="403.70" stroke="#000" stroke-width="2.2" stroke-linecap="butt"/>
<polygon points="139.8,399.9 147.7,403.6 139.8,407.3" fill="#000"/>
<text x="166.30" y="348.60" font-size="13.6" font-weight="bold" font-style="normal" text-anchor="start" textLength="120.00" lengthAdjust="spacingAndGlyphs" >IL-4/IL-13 + Carrier</text>
<line x1="166.00" y1="350.20" x2="286.30" y2="350.20" stroke="#000" stroke-width="1.8" stroke-linecap="butt"/>
<text x="361.30" y="348.60" font-size="13.6" font-weight="bold" font-style="normal" text-anchor="start" textLength="110.70" lengthAdjust="spacingAndGlyphs" >IL-4/IL-13 + MEKi</text>
<line x1="361.00" y1="350.20" x2="472.00" y2="350.20" stroke="#000" stroke-width="1.8" stroke-linecap="butt"/>
</g>
<g id="E">
<rect x="48.20" y="538.80" width="30.80" height="32.70" fill="#000"/>
<rect x="93.25" y="503.05" width="28.90" height="68.45" fill="#fff" stroke="#000" stroke-width="1.7"/>
<line x1="63.50" y1="535.75" x2="63.50" y2="539.00" stroke="#000" stroke-width="1.3" stroke-linecap="butt"/>
<line x1="55.80" y1="535.75" x2="71.20" y2="535.75" stroke="#000" stroke-width="1.3" stroke-linecap="butt"/>
<line x1="107.80" y1="501.80" x2="107.80" y2="503.00" stroke="#000" stroke-width="1.3" stroke-linecap="butt"/>
<line x1="100.40" y1="501.80" x2="115.40" y2="501.80" stroke="#000" stroke-width="1.3" stroke-linecap="butt"/>
<line x1="42.10" y1="483.05" x2="42.10" y2="572.05" stroke="#000" stroke-width="2.1" stroke-linecap="butt"/>
<line x1="36.90" y1="484.30" x2="42.10" y2="484.30" stroke="#000" stroke-width="1.785" stroke-linecap="butt"/>
<text x="36.60" y="487.47" font-size="8.8" font-weight="bold" font-style="normal" text-anchor="end" textLength="14.55" lengthAdjust="spacingAndGlyphs" stroke="#000" stroke-width="0.25">100</text>
<line x1="36.90" y1="513.20" x2="42.10" y2="513.20" stroke="#000" stroke-width="1.785" stroke-linecap="butt"/>
<text x="36.60" y="516.37" font-size="8.8" font-weight="bold" font-style="normal" text-anchor="end" textLength="9.70" lengthAdjust="spacingAndGlyphs" stroke="#000" stroke-width="0.25">90</text>
<line x1="36.90" y1="542.10" x2="42.10" y2="542.10" stroke="#000" stroke-width="1.785" stroke-linecap="butt"/>
<text x="36.60" y="545.27" font-size="8.8" font-weight="bold" font-style="normal" text-anchor="end" textLength="9.70" lengthAdjust="spacingAndGlyphs" stroke="#000" stroke-width="0.25">80</text>
<line x1="36.90" y1="571.00" x2="42.10" y2="571.00" stroke="#000" stroke-width="1.785" stroke-linecap="butt"/>
<text x="36.60" y="574.17" font-size="8.8" font-weight="bold" font-style="normal" text-anchor="end" textLength="9.70" lengthAdjust="spacingAndGlyphs" stroke="#000" stroke-width="0.25">70</text>
<line x1="41.10" y1="571.00" x2="129.40" y2="571.00" stroke="#000" stroke-width="2.1" stroke-linecap="butt"/>
<line x1="63.40" y1="498.70" x2="106.20" y2="498.70" stroke="#000" stroke-width="1.8" stroke-linecap="round"/>
<text x="85.50" y="499.15" font-size="10.3" font-weight="bold" font-style="normal" text-anchor="middle" letter-spacing="0.4">*</text>
<text transform="translate(18.30,527.20) rotate(-90)" font-size="13.2" font-weight="bold" text-anchor="middle" textLength="101.50" lengthAdjust="spacingAndGlyphs">% BMDM Mertk<tspan font-size="8" dy="-4.5">+</tspan></text>
<rect x="173.75" y="557.00" width="30.00" height="14.50" fill="#000"/>
<rect x="218.35" y="504.85" width="28.30" height="66.65" fill="#fff" stroke="#000" stroke-width="1.7"/>
<line x1="188.75" y1="553.40" x2="188.75" y2="557.50" stroke="#000" stroke-width="1.3" stroke-linecap="butt"/>
<line x1="181.25" y1="553.40" x2="196.25" y2="553.40" stroke="#000" stroke-width="1.3" stroke-linecap="butt"/>
<line x1="232.50" y1="503.50" x2="232.50" y2="505.00" stroke="#000" stroke-width="1.3" stroke-linecap="butt"/>
<line x1="225.00" y1="503.50" x2="240.00" y2="503.50" stroke="#000" stroke-width="1.3" stroke-linecap="butt"/>
<line x1="167.20" y1="483.05" x2="167.20" y2="572.05" stroke="#000" stroke-width="2.1" stroke-linecap="butt"/>
<line x1="162.00" y1="483.80" x2="167.20" y2="483.80" stroke="#000" stroke-width="1.785" stroke-linecap="butt"/>
<text x="161.70" y="486.97" font-size="8.8" font-weight="bold" font-style="normal" text-anchor="end" textLength="18.60" lengthAdjust="spacingAndGlyphs" stroke="#000" stroke-width="0.25">9000</text>
<line x1="162.00" y1="505.60" x2="167.20" y2="505.60" stroke="#000" stroke-width="1.785" stroke-linecap="butt"/>
<text x="161.70" y="508.77" font-size="8.8" font-weight="bold" font-style="normal" text-anchor="end" textLength="18.60" lengthAdjust="spacingAndGlyphs" stroke="#000" stroke-width="0.25">7000</text>
<line x1="162.00" y1="527.50" x2="167.20" y2="527.50" stroke="#000" stroke-width="1.785" stroke-linecap="butt"/>
<text x="161.70" y="530.67" font-size="8.8" font-weight="bold" font-style="normal" text-anchor="end" textLength="18.60" lengthAdjust="spacingAndGlyphs" stroke="#000" stroke-width="0.25">5000</text>
<line x1="162.00" y1="549.30" x2="167.20" y2="549.30" stroke="#000" stroke-width="1.785" stroke-linecap="butt"/>
<text x="161.70" y="552.47" font-size="8.8" font-weight="bold" font-style="normal" text-anchor="end" textLength="18.60" lengthAdjust="spacingAndGlyphs" stroke="#000" stroke-width="0.25">3000</text>
<line x1="162.00" y1="571.00" x2="167.20" y2="571.00" stroke="#000" stroke-width="1.785" stroke-linecap="butt"/>
<text x="161.70" y="574.17" font-size="8.8" font-weight="bold" font-style="normal" text-anchor="end" textLength="18.60" lengthAdjust="spacingAndGlyphs" stroke="#000" stroke-width="0.25">1000</text>
<line x1="166.10" y1="571.00" x2="253.75" y2="571.00" stroke="#000" stroke-width="2.1" stroke-linecap="butt"/>
<line x1="188.90" y1="499.60" x2="231.60" y2="499.60" stroke="#000" stroke-width="1.8" stroke-linecap="round"/>
<text x="208.00" y="500.45" font-size="10.3" font-weight="bold" font-style="normal" text-anchor="middle" letter-spacing="0.4">**</text>
<text transform="translate(141.30,526.50) rotate(-90)" font-size="13.3" font-weight="bold" text-anchor="middle" textLength="71.50" lengthAdjust="spacingAndGlyphs">Mertk <tspan font-weight="normal">Δ</tspan>MFI</text>
<rect x="298.30" y="528.75" width="31.10" height="42.75" fill="#000"/>
<rect x="343.35" y="517.55" width="28.80" height="53.95" fill="#fff" stroke="#000" stroke-width="1.7"/>
<line x1="313.75" y1="520.75" x2="313.75" y2="529.00" stroke="#000" stroke-width="1.3" stroke-linecap="butt"/>
<line x1="306.25" y1="520.75" x2="321.25" y2="520.75" stroke="#000" stroke-width="1.3" stroke-linecap="butt"/>
<line x1="357.50" y1="503.25" x2="357.50" y2="517.30" stroke="#000" stroke-width="1.3" stroke-linecap="butt"/>
<line x1="350.00" y1="503.25" x2="365.00" y2="503.25" stroke="#000" stroke-width="1.3" stroke-linecap="butt"/>
<line x1="292.20" y1="483.05" x2="292.20" y2="572.05" stroke="#000" stroke-width="2.1" stroke-linecap="butt"/>
<line x1="287.00" y1="483.80" x2="292.20" y2="483.80" stroke="#000" stroke-width="1.785" stroke-linecap="butt"/>
<text x="287.20" y="486.97" font-size="8.8" font-weight="bold" font-style="normal" text-anchor="end" textLength="18.60" lengthAdjust="spacingAndGlyphs" stroke="#000" stroke-width="0.25">5000</text>
<line x1="287.00" y1="501.30" x2="292.20" y2="501.30" stroke="#000" stroke-width="1.785" stroke-linecap="butt"/>
<text x="287.20" y="504.47" font-size="8.8" font-weight="bold" font-style="normal" text-anchor="end" textLength="18.60" lengthAdjust="spacingAndGlyphs" stroke="#000" stroke-width="0.25">4000</text>
<line x1="287.00" y1="518.80" x2="292.20" y2="518.80" stroke="#000" stroke-width="1.785" stroke-linecap="butt"/>
<text x="287.20" y="521.97" font-size="8.8" font-weight="bold" font-style="normal" text-anchor="end" textLength="18.60" lengthAdjust="spacingAndGlyphs" stroke="#000" stroke-width="0.25">3000</text>
<line x1="287.00" y1="536.20" x2="292.20" y2="536.20" stroke="#000" stroke-width="1.785" stroke-linecap="butt"/>
<text x="287.20" y="539.37" font-size="8.8" font-weight="bold" font-style="normal" text-anchor="end" textLength="18.60" lengthAdjust="spacingAndGlyphs" stroke="#000" stroke-width="0.25">2000</text>
<line x1="287.00" y1="553.60" x2="292.20" y2="553.60" stroke="#000" stroke-width="1.785" stroke-linecap="butt"/>
<text x="287.20" y="556.77" font-size="8.8" font-weight="bold" font-style="normal" text-anchor="end" textLength="18.60" lengthAdjust="spacingAndGlyphs" stroke="#000" stroke-width="0.25">1000</text>
<line x1="287.00" y1="571.00" x2="292.20" y2="571.00" stroke="#000" stroke-width="1.785" stroke-linecap="butt"/>
<text x="287.20" y="574.17" font-size="8.8" font-weight="bold" font-style="normal" text-anchor="end" textLength="4.65" lengthAdjust="spacingAndGlyphs" stroke="#000" stroke-width="0.25">0</text>
<line x1="291.10" y1="571.00" x2="378.80" y2="571.00" stroke="#000" stroke-width="2.1" stroke-linecap="butt"/>
<line x1="313.40" y1="500.00" x2="355.85" y2="500.00" stroke="#000" stroke-width="1.8" stroke-linecap="round"/>
<text x="335.20" y="501.35" font-size="10.3" font-weight="bold" font-style="normal" text-anchor="middle" letter-spacing="0.4">*</text>
<text transform="translate(267.40,521.00) rotate(-90)" font-size="13.5" font-weight="bold" text-anchor="middle" textLength="78.00" lengthAdjust="spacingAndGlyphs">Abca1 <tspan font-weight="normal">Δ</tspan>MFI</text>
</g>
<g id="F">
<rect x="427.70" y="560.80" width="13.80" height="10.50" fill="#000"/>
<rect x="447.05" y="561.85" width="12.50" height="9.45" fill="#fff" stroke="#000" stroke-width="1.7"/>
<rect x="477.50" y="518.50" width="14.10" height="52.80" fill="#000"/>
<rect x="497.25" y="485.35" width="12.20" height="85.95" fill="#fff" stroke="#000" stroke-width="1.7"/>
<line x1="484.80" y1="516.70" x2="484.80" y2="519.00" stroke="#000" stroke-width="1.3" stroke-linecap="butt"/>
<line x1="481.00" y1="516.70" x2="488.60" y2="516.70" stroke="#000" stroke-width="1.3" stroke-linecap="butt"/>
<line x1="503.30" y1="476.50" x2="503.30" y2="485.00" stroke="#000" stroke-width="1.3" stroke-linecap="butt"/>
<line x1="499.70" y1="476.50" x2="506.80" y2="476.50" stroke="#000" stroke-width="1.3" stroke-linecap="butt"/>
<line x1="419.30" y1="469.05" x2="419.30" y2="571.75" stroke="#000" stroke-width="2.1" stroke-linecap="butt"/>
<line x1="413.00" y1="470.70" x2="419.30" y2="470.70" stroke="#000" stroke-width="1.785" stroke-linecap="butt"/>
<text x="413.00" y="474.12" font-size="9.5" font-weight="bold" font-style="normal" text-anchor="end" textLength="26.00" lengthAdjust="spacingAndGlyphs" stroke="#000" stroke-width="0.25">10000</text>
<line x1="413.00" y1="490.80" x2="419.30" y2="490.80" stroke="#000" stroke-width="1.785" stroke-linecap="butt"/>
<text x="413.00" y="494.22" font-size="9.5" font-weight="bold" font-style="normal" text-anchor="end" textLength="20.80" lengthAdjust="spacingAndGlyphs" stroke="#000" stroke-width="0.25">8000</text>
<line x1="413.00" y1="510.60" x2="419.30" y2="510.60" stroke="#000" stroke-width="1.785" stroke-linecap="butt"/>
<text x="413.00" y="514.02" font-size="9.5" font-weight="bold" font-style="normal" text-anchor="end" textLength="20.80" lengthAdjust="spacingAndGlyphs" stroke="#000" stroke-width="0.25">6000</text>
<line x1="413.00" y1="530.50" x2="419.30" y2="530.50" stroke="#000" stroke-width="1.785" stroke-linecap="butt"/>
<text x="413.00" y="533.92" font-size="9.5" font-weight="bold" font-style="normal" text-anchor="end" textLength="20.80" lengthAdjust="spacingAndGlyphs" stroke="#000" stroke-width="0.25">4000</text>
<line x1="413.00" y1="550.50" x2="419.30" y2="550.50" stroke="#000" stroke-width="1.785" stroke-linecap="butt"/>
<text x="413.00" y="553.92" font-size="9.5" font-weight="bold" font-style="normal" text-anchor="end" textLength="20.80" lengthAdjust="spacingAndGlyphs" stroke="#000" stroke-width="0.25">2000</text>
<line x1="413.00" y1="570.60" x2="419.30" y2="570.60" stroke="#000" stroke-width="1.785" stroke-linecap="butt"/>
<text x="413.00" y="574.02" font-size="9.5" font-weight="bold" font-style="normal" text-anchor="end" textLength="5.20" lengthAdjust="spacingAndGlyphs" stroke="#000" stroke-width="0.25">0</text>
<line x1="418.20" y1="570.70" x2="520.00" y2="570.70" stroke="#000" stroke-width="2.1" stroke-linecap="butt"/>
<line x1="485.60" y1="472.30" x2="502.50" y2="472.30" stroke="#000" stroke-width="1.8" stroke-linecap="round"/>
<text x="494.45" y="472.67" font-size="11.3" font-weight="bold" font-style="normal" text-anchor="middle" letter-spacing="0.5">**</text>
<text transform="translate(388.90,525.00) rotate(-90)" font-size="13.5" font-weight="bold" text-anchor="middle" textLength="32.70" lengthAdjust="spacingAndGlyphs"><tspan font-weight="normal">Δ</tspan>MFI</text>
<text x="434.20" y="585.30" font-size="12.2" font-weight="bold" font-style="normal" text-anchor="start" textLength="20.00" lengthAdjust="spacingAndGlyphs" >Axl</text>
<text x="477.30" y="585.30" font-size="12.2" font-weight="bold" font-style="normal" text-anchor="start" textLength="35.50" lengthAdjust="spacingAndGlyphs" >Tyro3</text>
</g>
</svg>
</body></html>
